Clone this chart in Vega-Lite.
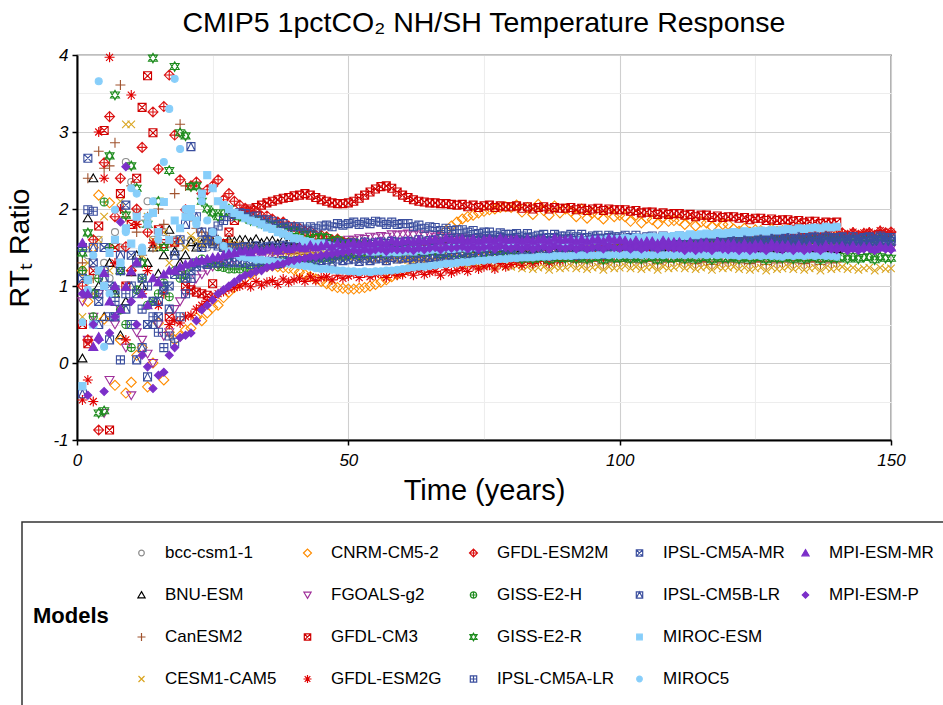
{
"$schema":"https://vega.github.io/schema/vega-lite/v6.json",
"width":814,"height":385,
"autosize":{"type":"none"},
"padding":{"left":77,"top":55,"right":52,"bottom":265},
"background":"white",
"title":{"text":"CMIP5 1pctCO₂ NH/SH Temperature Response","font":"Liberation Sans","fontSize":28.5,"fontWeight":"normal","color":"black","anchor":"middle","offset":9},
"datasets":{"models":[
{"m":"a","model":"bcc-csm1-1"},{"m":"b","model":"BNU-ESM"},{"m":"c","model":"CanESM2"},{"m":"d","model":"CESM1-CAM5"},{"m":"e","model":"CNRM-CM5-2"},{"m":"f","model":"FGOALS-g2"},{"m":"g","model":"GFDL-CM3"},{"m":"h","model":"GFDL-ESM2G"},{"m":"i","model":"GFDL-ESM2M"},{"m":"j","model":"GISS-E2-H"},{"m":"k","model":"GISS-E2-R"},{"m":"l","model":"IPSL-CM5A-LR"},{"m":"n","model":"IPSL-CM5B-LR"},{"m":"mm","model":"IPSL-CM5A-MR"},{"m":"o","model":"MIROC-ESM"},{"m":"p","model":"MIROC5"},{"m":"q","model":"MPI-ESM-MR"},{"m":"r","model":"MPI-ESM-P"}]},
"data":{"values":[
{"m":"a","t":1,"y":1.18},{"m":"a","t":2,"y":1.4},{"m":"a","t":3,"y":0.9},{"m":"a","t":4,"y":1.6},{"m":"a","t":5,"y":1.3},{"m":"a","t":6,"y":1.1},{"m":"a","t":7,"y":1.7},{"m":"a","t":8,"y":1.5},{"m":"a","t":9,"y":2.61},{"m":"a","t":10,"y":2.35},
{"m":"a","t":11,"y":1.95},{"m":"a","t":12,"y":1.81},{"m":"a","t":13,"y":2.1},{"m":"a","t":14,"y":1.6},{"m":"a","t":15,"y":1.5},{"m":"a","t":16,"y":1.7},{"m":"a","t":17,"y":1.55},{"m":"a","t":18,"y":1.6},{"m":"a","t":19,"y":1.5},{"m":"a","t":20,"y":1.55},
{"m":"a","t":21,"y":1.6},{"m":"a","t":22,"y":1.52},{"m":"a","t":23,"y":1.58},{"m":"a","t":24,"y":1.5},{"m":"a","t":25,"y":1.55},{"m":"a","t":26,"y":1.53},{"m":"a","t":27,"y":1.5},{"m":"a","t":28,"y":1.56},{"m":"a","t":29,"y":1.52},{"m":"a","t":30,"y":1.5},
{"m":"a","t":31,"y":1.52},{"m":"a","t":32,"y":1.49},{"m":"a","t":33,"y":1.53},{"m":"a","t":34,"y":1.48},{"m":"a","t":35,"y":1.5},{"m":"a","t":36,"y":1.51},{"m":"a","t":37,"y":1.47},{"m":"a","t":38,"y":1.52},{"m":"a","t":39,"y":1.49},{"m":"a","t":40,"y":1.5},
{"m":"a","t":41,"y":1.52},{"m":"a","t":42,"y":1.49},{"m":"a","t":43,"y":1.53},{"m":"a","t":44,"y":1.48},{"m":"a","t":45,"y":1.5},{"m":"a","t":46,"y":1.51},{"m":"a","t":47,"y":1.47},{"m":"a","t":48,"y":1.52},{"m":"a","t":49,"y":1.49},{"m":"a","t":50,"y":1.5},
{"m":"a","t":51,"y":1.52},{"m":"a","t":52,"y":1.49},{"m":"a","t":53,"y":1.53},{"m":"a","t":54,"y":1.48},{"m":"a","t":55,"y":1.5},{"m":"a","t":56,"y":1.51},{"m":"a","t":57,"y":1.47},{"m":"a","t":58,"y":1.52},{"m":"a","t":59,"y":1.49},{"m":"a","t":60,"y":1.5},
{"m":"a","t":61,"y":1.52},{"m":"a","t":62,"y":1.49},{"m":"a","t":63,"y":1.53},{"m":"a","t":64,"y":1.48},{"m":"a","t":65,"y":1.5},{"m":"a","t":66,"y":1.51},{"m":"a","t":67,"y":1.47},{"m":"a","t":68,"y":1.52},{"m":"a","t":69,"y":1.49},{"m":"a","t":70,"y":1.5},
{"m":"a","t":71,"y":1.52},{"m":"a","t":72,"y":1.49},{"m":"a","t":73,"y":1.53},{"m":"a","t":74,"y":1.48},{"m":"a","t":75,"y":1.5},{"m":"a","t":76,"y":1.51},{"m":"a","t":77,"y":1.47},{"m":"a","t":78,"y":1.52},{"m":"a","t":79,"y":1.49},{"m":"a","t":80,"y":1.5},
{"m":"a","t":81,"y":1.52},{"m":"a","t":82,"y":1.49},{"m":"a","t":83,"y":1.53},{"m":"a","t":84,"y":1.48},{"m":"a","t":85,"y":1.5},{"m":"a","t":86,"y":1.51},{"m":"a","t":87,"y":1.47},{"m":"a","t":88,"y":1.52},{"m":"a","t":89,"y":1.49},{"m":"a","t":90,"y":1.5},
{"m":"a","t":91,"y":1.5},{"m":"a","t":92,"y":1.47},{"m":"a","t":93,"y":1.51},{"m":"a","t":94,"y":1.46},{"m":"a","t":95,"y":1.48},{"m":"a","t":96,"y":1.49},{"m":"a","t":97,"y":1.45},{"m":"a","t":98,"y":1.5},{"m":"a","t":99,"y":1.47},{"m":"a","t":100,"y":1.48},
{"m":"a","t":101,"y":1.5},{"m":"a","t":102,"y":1.47},{"m":"a","t":103,"y":1.51},{"m":"a","t":104,"y":1.46},{"m":"a","t":105,"y":1.48},{"m":"a","t":106,"y":1.49},{"m":"a","t":107,"y":1.45},{"m":"a","t":108,"y":1.5},{"m":"a","t":109,"y":1.47},{"m":"a","t":110,"y":1.48},
{"m":"a","t":111,"y":1.5},{"m":"a","t":112,"y":1.47},{"m":"a","t":113,"y":1.51},{"m":"a","t":114,"y":1.46},{"m":"a","t":115,"y":1.48},{"m":"a","t":116,"y":1.49},{"m":"a","t":117,"y":1.45},{"m":"a","t":118,"y":1.5},{"m":"a","t":119,"y":1.47},{"m":"a","t":120,"y":1.48},
{"m":"a","t":121,"y":1.5},{"m":"a","t":122,"y":1.47},{"m":"a","t":123,"y":1.51},{"m":"a","t":124,"y":1.46},{"m":"a","t":125,"y":1.48},{"m":"a","t":126,"y":1.49},{"m":"a","t":127,"y":1.45},{"m":"a","t":128,"y":1.5},{"m":"a","t":129,"y":1.47},{"m":"a","t":130,"y":1.48},
{"m":"a","t":131,"y":1.5},{"m":"a","t":132,"y":1.47},{"m":"a","t":133,"y":1.51},{"m":"a","t":134,"y":1.46},{"m":"a","t":135,"y":1.48},{"m":"a","t":136,"y":1.49},{"m":"a","t":137,"y":1.45},{"m":"a","t":138,"y":1.5},{"m":"a","t":139,"y":1.47},{"m":"a","t":140,"y":1.48},
{"m":"b","t":1,"y":0.06},{"m":"b","t":2,"y":1.88},{"m":"b","t":3,"y":2.4},{"m":"b","t":4,"y":1.0},{"m":"b","t":5,"y":0.6},{"m":"b","t":6,"y":1.3},{"m":"b","t":7,"y":0.9},{"m":"b","t":8,"y":0.36},{"m":"b","t":9,"y":0.8},{"m":"b","t":10,"y":1.18},
{"m":"b","t":11,"y":1.4},{"m":"b","t":12,"y":1.0},{"m":"b","t":13,"y":1.3},{"m":"b","t":14,"y":1.5},{"m":"b","t":15,"y":1.16},{"m":"b","t":16,"y":1.4},{"m":"b","t":17,"y":1.73},{"m":"b","t":18,"y":1.45},{"m":"b","t":19,"y":1.3},{"m":"b","t":20,"y":1.4},
{"m":"b","t":21,"y":1.57},{"m":"b","t":22,"y":1.5},{"m":"b","t":23,"y":1.55},{"m":"b","t":24,"y":1.6},{"m":"b","t":25,"y":1.58},{"m":"b","t":26,"y":1.6},{"m":"b","t":27,"y":1.55},{"m":"b","t":28,"y":1.6},{"m":"b","t":29,"y":1.58},{"m":"b","t":30,"y":1.6},
{"m":"b","t":31,"y":1.6},{"m":"b","t":32,"y":1.57},{"m":"b","t":33,"y":1.61},{"m":"b","t":34,"y":1.56},{"m":"b","t":35,"y":1.58},{"m":"b","t":36,"y":1.59},{"m":"b","t":37,"y":1.55},{"m":"b","t":38,"y":1.6},{"m":"b","t":39,"y":1.57},{"m":"b","t":40,"y":1.58},
{"m":"b","t":41,"y":1.58},{"m":"b","t":42,"y":1.55},{"m":"b","t":43,"y":1.59},{"m":"b","t":44,"y":1.54},{"m":"b","t":45,"y":1.56},{"m":"b","t":46,"y":1.57},{"m":"b","t":47,"y":1.53},{"m":"b","t":48,"y":1.58},{"m":"b","t":49,"y":1.55},{"m":"b","t":50,"y":1.56},
{"m":"b","t":51,"y":1.56},{"m":"b","t":52,"y":1.53},{"m":"b","t":53,"y":1.57},{"m":"b","t":54,"y":1.52},{"m":"b","t":55,"y":1.54},{"m":"b","t":56,"y":1.55},{"m":"b","t":57,"y":1.51},{"m":"b","t":58,"y":1.56},{"m":"b","t":59,"y":1.53},{"m":"b","t":60,"y":1.54},
{"m":"b","t":61,"y":1.52},{"m":"b","t":62,"y":1.49},{"m":"b","t":63,"y":1.53},{"m":"b","t":64,"y":1.48},{"m":"b","t":65,"y":1.5},{"m":"b","t":66,"y":1.51},{"m":"b","t":67,"y":1.47},{"m":"b","t":68,"y":1.52},{"m":"b","t":69,"y":1.49},{"m":"b","t":70,"y":1.5},
{"m":"b","t":71,"y":1.52},{"m":"b","t":72,"y":1.49},{"m":"b","t":73,"y":1.53},{"m":"b","t":74,"y":1.48},{"m":"b","t":75,"y":1.5},{"m":"b","t":76,"y":1.51},{"m":"b","t":77,"y":1.47},{"m":"b","t":78,"y":1.52},{"m":"b","t":79,"y":1.49},{"m":"b","t":80,"y":1.5},
{"m":"b","t":81,"y":1.52},{"m":"b","t":82,"y":1.49},{"m":"b","t":83,"y":1.53},{"m":"b","t":84,"y":1.48},{"m":"b","t":85,"y":1.5},{"m":"b","t":86,"y":1.51},{"m":"b","t":87,"y":1.47},{"m":"b","t":88,"y":1.52},{"m":"b","t":89,"y":1.49},{"m":"b","t":90,"y":1.5},
{"m":"b","t":91,"y":1.52},{"m":"b","t":92,"y":1.49},{"m":"b","t":93,"y":1.53},{"m":"b","t":94,"y":1.48},{"m":"b","t":95,"y":1.5},{"m":"b","t":96,"y":1.51},{"m":"b","t":97,"y":1.47},{"m":"b","t":98,"y":1.52},{"m":"b","t":99,"y":1.49},{"m":"b","t":100,"y":1.5},
{"m":"b","t":101,"y":1.5},{"m":"b","t":102,"y":1.47},{"m":"b","t":103,"y":1.51},{"m":"b","t":104,"y":1.46},{"m":"b","t":105,"y":1.48},{"m":"b","t":106,"y":1.49},{"m":"b","t":107,"y":1.45},{"m":"b","t":108,"y":1.5},{"m":"b","t":109,"y":1.47},{"m":"b","t":110,"y":1.48},
{"m":"b","t":111,"y":1.5},{"m":"b","t":112,"y":1.47},{"m":"b","t":113,"y":1.51},{"m":"b","t":114,"y":1.46},{"m":"b","t":115,"y":1.48},{"m":"b","t":116,"y":1.49},{"m":"b","t":117,"y":1.45},{"m":"b","t":118,"y":1.5},{"m":"b","t":119,"y":1.47},{"m":"b","t":120,"y":1.48},
{"m":"b","t":121,"y":1.5},{"m":"b","t":122,"y":1.47},{"m":"b","t":123,"y":1.51},{"m":"b","t":124,"y":1.46},{"m":"b","t":125,"y":1.48},{"m":"b","t":126,"y":1.49},{"m":"b","t":127,"y":1.45},{"m":"b","t":128,"y":1.5},{"m":"b","t":129,"y":1.47},{"m":"b","t":130,"y":1.48},
{"m":"b","t":131,"y":1.5},{"m":"b","t":132,"y":1.47},{"m":"b","t":133,"y":1.51},{"m":"b","t":134,"y":1.46},{"m":"b","t":135,"y":1.48},{"m":"b","t":136,"y":1.49},{"m":"b","t":137,"y":1.45},{"m":"b","t":138,"y":1.5},{"m":"b","t":139,"y":1.47},{"m":"b","t":140,"y":1.48},
{"m":"c","t":1,"y":1.3},{"m":"c","t":2,"y":2.4},{"m":"c","t":3,"y":1.1},{"m":"c","t":4,"y":2.75},{"m":"c","t":5,"y":2.53},{"m":"c","t":6,"y":2.56},{"m":"c","t":7,"y":2.86},{"m":"c","t":8,"y":3.61},{"m":"c","t":9,"y":1.9},{"m":"c","t":10,"y":2.3},
{"m":"c","t":11,"y":1.7},{"m":"c","t":12,"y":1.4},{"m":"c","t":13,"y":1.9},{"m":"c","t":14,"y":1.5},{"m":"c","t":15,"y":2.0},{"m":"c","t":16,"y":1.8},{"m":"c","t":17,"y":1.6},{"m":"c","t":18,"y":2.2},{"m":"c","t":19,"y":3.1},{"m":"c","t":20,"y":2.3},
{"m":"c","t":21,"y":1.9},{"m":"c","t":22,"y":1.75},{"m":"c","t":23,"y":1.7},{"m":"c","t":24,"y":1.64},{"m":"c","t":25,"y":1.6},{"m":"c","t":26,"y":1.58},{"m":"c","t":27,"y":1.55},{"m":"c","t":28,"y":1.56},{"m":"c","t":29,"y":1.52},{"m":"c","t":30,"y":1.53},
{"m":"c","t":31,"y":1.5},{"m":"c","t":32,"y":1.49},{"m":"c","t":33,"y":1.5},{"m":"c","t":34,"y":1.46},{"m":"c","t":35,"y":1.47},{"m":"c","t":36,"y":1.45},{"m":"c","t":37,"y":1.43},{"m":"c","t":38,"y":1.45},{"m":"c","t":39,"y":1.42},{"m":"c","t":40,"y":1.42},
{"m":"c","t":41,"y":1.43},{"m":"c","t":42,"y":1.41},{"m":"c","t":43,"y":1.43},{"m":"c","t":44,"y":1.39},{"m":"c","t":45,"y":1.4},{"m":"c","t":46,"y":1.41},{"m":"c","t":47,"y":1.37},{"m":"c","t":48,"y":1.4},{"m":"c","t":49,"y":1.38},{"m":"c","t":50,"y":1.39},
{"m":"c","t":51,"y":1.39},{"m":"c","t":52,"y":1.37},{"m":"c","t":53,"y":1.4},{"m":"c","t":54,"y":1.36},{"m":"c","t":55,"y":1.37},{"m":"c","t":56,"y":1.38},{"m":"c","t":57,"y":1.34},{"m":"c","t":58,"y":1.38},{"m":"c","t":59,"y":1.36},{"m":"c","t":60,"y":1.36},
{"m":"c","t":61,"y":1.36},{"m":"c","t":62,"y":1.34},{"m":"c","t":63,"y":1.37},{"m":"c","t":64,"y":1.33},{"m":"c","t":65,"y":1.35},{"m":"c","t":66,"y":1.36},{"m":"c","t":67,"y":1.32},{"m":"c","t":68,"y":1.36},{"m":"c","t":69,"y":1.34},{"m":"c","t":70,"y":1.34},
{"m":"c","t":71,"y":1.35},{"m":"c","t":72,"y":1.33},{"m":"c","t":73,"y":1.36},{"m":"c","t":74,"y":1.32},{"m":"c","t":75,"y":1.34},{"m":"c","t":76,"y":1.35},{"m":"c","t":77,"y":1.31},{"m":"c","t":78,"y":1.35},{"m":"c","t":79,"y":1.33},{"m":"c","t":80,"y":1.33},
{"m":"c","t":81,"y":1.34},{"m":"c","t":82,"y":1.31},{"m":"c","t":83,"y":1.34},{"m":"c","t":84,"y":1.3},{"m":"c","t":85,"y":1.32},{"m":"c","t":86,"y":1.33},{"m":"c","t":87,"y":1.29},{"m":"c","t":88,"y":1.33},{"m":"c","t":89,"y":1.31},{"m":"c","t":90,"y":1.32},
{"m":"c","t":91,"y":1.34},{"m":"c","t":92,"y":1.31},{"m":"c","t":93,"y":1.34},{"m":"c","t":94,"y":1.3},{"m":"c","t":95,"y":1.32},{"m":"c","t":96,"y":1.33},{"m":"c","t":97,"y":1.29},{"m":"c","t":98,"y":1.33},{"m":"c","t":99,"y":1.31},{"m":"c","t":100,"y":1.32},
{"m":"c","t":101,"y":1.34},{"m":"c","t":102,"y":1.31},{"m":"c","t":103,"y":1.34},{"m":"c","t":104,"y":1.3},{"m":"c","t":105,"y":1.32},{"m":"c","t":106,"y":1.33},{"m":"c","t":107,"y":1.29},{"m":"c","t":108,"y":1.33},{"m":"c","t":109,"y":1.31},{"m":"c","t":110,"y":1.32},
{"m":"c","t":111,"y":1.33},{"m":"c","t":112,"y":1.3},{"m":"c","t":113,"y":1.33},{"m":"c","t":114,"y":1.29},{"m":"c","t":115,"y":1.31},{"m":"c","t":116,"y":1.32},{"m":"c","t":117,"y":1.28},{"m":"c","t":118,"y":1.32},{"m":"c","t":119,"y":1.3},{"m":"c","t":120,"y":1.31},
{"m":"c","t":121,"y":1.33},{"m":"c","t":122,"y":1.3},{"m":"c","t":123,"y":1.33},{"m":"c","t":124,"y":1.29},{"m":"c","t":125,"y":1.31},{"m":"c","t":126,"y":1.32},{"m":"c","t":127,"y":1.28},{"m":"c","t":128,"y":1.32},{"m":"c","t":129,"y":1.3},{"m":"c","t":130,"y":1.31},
{"m":"c","t":131,"y":1.33},{"m":"c","t":132,"y":1.3},{"m":"c","t":133,"y":1.33},{"m":"c","t":134,"y":1.29},{"m":"c","t":135,"y":1.31},{"m":"c","t":136,"y":1.32},{"m":"c","t":137,"y":1.28},{"m":"c","t":138,"y":1.32},{"m":"c","t":139,"y":1.3},{"m":"c","t":140,"y":1.31},
{"m":"d","t":1,"y":0.6},{"m":"d","t":2,"y":1.3},{"m":"d","t":3,"y":0.9},{"m":"d","t":4,"y":1.6},{"m":"d","t":5,"y":1.9},{"m":"d","t":6,"y":1.2},{"m":"d","t":7,"y":1.5},{"m":"d","t":8,"y":2.1},{"m":"d","t":9,"y":3.1},{"m":"d","t":10,"y":3.1},
{"m":"d","t":11,"y":1.8},{"m":"d","t":12,"y":1.4},{"m":"d","t":13,"y":1.9},{"m":"d","t":14,"y":1.6},{"m":"d","t":15,"y":1.5},{"m":"d","t":16,"y":1.7},{"m":"d","t":17,"y":1.3},{"m":"d","t":18,"y":1.55},{"m":"d","t":19,"y":1.6},{"m":"d","t":20,"y":1.5},
{"m":"d","t":21,"y":1.65},{"m":"d","t":22,"y":1.6},{"m":"d","t":23,"y":1.55},{"m":"d","t":24,"y":1.6},{"m":"d","t":25,"y":1.58},{"m":"d","t":26,"y":1.57},{"m":"d","t":27,"y":1.55},{"m":"d","t":28,"y":1.56},{"m":"d","t":29,"y":1.52},{"m":"d","t":30,"y":1.53},
{"m":"d","t":31,"y":1.51},{"m":"d","t":32,"y":1.49},{"m":"d","t":33,"y":1.5},{"m":"d","t":34,"y":1.47},{"m":"d","t":35,"y":1.48},{"m":"d","t":36,"y":1.46},{"m":"d","t":37,"y":1.44},{"m":"d","t":38,"y":1.45},{"m":"d","t":39,"y":1.43},{"m":"d","t":40,"y":1.43},
{"m":"d","t":41,"y":1.42},{"m":"d","t":42,"y":1.4},{"m":"d","t":43,"y":1.42},{"m":"d","t":44,"y":1.39},{"m":"d","t":45,"y":1.4},{"m":"d","t":46,"y":1.4},{"m":"d","t":47,"y":1.37},{"m":"d","t":48,"y":1.4},{"m":"d","t":49,"y":1.38},{"m":"d","t":50,"y":1.38},
{"m":"d","t":51,"y":1.39},{"m":"d","t":52,"y":1.36},{"m":"d","t":53,"y":1.38},{"m":"d","t":54,"y":1.35},{"m":"d","t":55,"y":1.36},{"m":"d","t":56,"y":1.36},{"m":"d","t":57,"y":1.33},{"m":"d","t":58,"y":1.36},{"m":"d","t":59,"y":1.34},{"m":"d","t":60,"y":1.34},
{"m":"d","t":61,"y":1.34},{"m":"d","t":62,"y":1.31},{"m":"d","t":63,"y":1.34},{"m":"d","t":64,"y":1.3},{"m":"d","t":65,"y":1.31},{"m":"d","t":66,"y":1.32},{"m":"d","t":67,"y":1.29},{"m":"d","t":68,"y":1.31},{"m":"d","t":69,"y":1.29},{"m":"d","t":70,"y":1.29},
{"m":"d","t":71,"y":1.29},{"m":"d","t":72,"y":1.27},{"m":"d","t":73,"y":1.29},{"m":"d","t":74,"y":1.25},{"m":"d","t":75,"y":1.27},{"m":"d","t":76,"y":1.27},{"m":"d","t":77,"y":1.24},{"m":"d","t":78,"y":1.27},{"m":"d","t":79,"y":1.25},{"m":"d","t":80,"y":1.25},
{"m":"d","t":81,"y":1.26},{"m":"d","t":82,"y":1.23},{"m":"d","t":83,"y":1.25},{"m":"d","t":84,"y":1.22},{"m":"d","t":85,"y":1.24},{"m":"d","t":86,"y":1.25},{"m":"d","t":87,"y":1.21},{"m":"d","t":88,"y":1.25},{"m":"d","t":89,"y":1.23},{"m":"d","t":90,"y":1.24},
{"m":"d","t":91,"y":1.26},{"m":"d","t":92,"y":1.23},{"m":"d","t":93,"y":1.25},{"m":"d","t":94,"y":1.22},{"m":"d","t":95,"y":1.24},{"m":"d","t":96,"y":1.25},{"m":"d","t":97,"y":1.21},{"m":"d","t":98,"y":1.25},{"m":"d","t":99,"y":1.23},{"m":"d","t":100,"y":1.24},
{"m":"d","t":101,"y":1.26},{"m":"d","t":102,"y":1.23},{"m":"d","t":103,"y":1.25},{"m":"d","t":104,"y":1.22},{"m":"d","t":105,"y":1.24},{"m":"d","t":106,"y":1.25},{"m":"d","t":107,"y":1.21},{"m":"d","t":108,"y":1.25},{"m":"d","t":109,"y":1.23},{"m":"d","t":110,"y":1.24},
{"m":"d","t":111,"y":1.26},{"m":"d","t":112,"y":1.23},{"m":"d","t":113,"y":1.25},{"m":"d","t":114,"y":1.22},{"m":"d","t":115,"y":1.24},{"m":"d","t":116,"y":1.25},{"m":"d","t":117,"y":1.21},{"m":"d","t":118,"y":1.25},{"m":"d","t":119,"y":1.23},{"m":"d","t":120,"y":1.24},
{"m":"d","t":121,"y":1.25},{"m":"d","t":122,"y":1.22},{"m":"d","t":123,"y":1.24},{"m":"d","t":124,"y":1.21},{"m":"d","t":125,"y":1.23},{"m":"d","t":126,"y":1.24},{"m":"d","t":127,"y":1.2},{"m":"d","t":128,"y":1.24},{"m":"d","t":129,"y":1.22},{"m":"d","t":130,"y":1.23},
{"m":"d","t":131,"y":1.25},{"m":"d","t":132,"y":1.22},{"m":"d","t":133,"y":1.24},{"m":"d","t":134,"y":1.21},{"m":"d","t":135,"y":1.23},{"m":"d","t":136,"y":1.24},{"m":"d","t":137,"y":1.2},{"m":"d","t":138,"y":1.24},{"m":"d","t":139,"y":1.22},{"m":"d","t":140,"y":1.23},
{"m":"d","t":141,"y":1.25},{"m":"d","t":142,"y":1.22},{"m":"d","t":143,"y":1.24},{"m":"d","t":144,"y":1.21},{"m":"d","t":145,"y":1.23},{"m":"d","t":146,"y":1.24},{"m":"d","t":147,"y":1.2},{"m":"d","t":148,"y":1.24},{"m":"d","t":149,"y":1.22},{"m":"d","t":150,"y":1.23},
{"m":"e","t":1,"y":1.2},{"m":"e","t":2,"y":0.8},{"m":"e","t":3,"y":1.5},{"m":"e","t":4,"y":2.18},{"m":"e","t":5,"y":0.57},{"m":"e","t":6,"y":2.08},{"m":"e","t":7,"y":-0.29},{"m":"e","t":8,"y":0.3},{"m":"e","t":9,"y":-0.39},{"m":"e","t":10,"y":-0.25},
{"m":"e","t":11,"y":0.1},{"m":"e","t":12,"y":0.2},{"m":"e","t":13,"y":-0.31},{"m":"e","t":14,"y":0.0},{"m":"e","t":15,"y":0.52},{"m":"e","t":16,"y":-0.22},{"m":"e","t":17,"y":0.4},{"m":"e","t":18,"y":0.3},{"m":"e","t":19,"y":0.35},{"m":"e","t":20,"y":0.43},
{"m":"e","t":21,"y":0.45},{"m":"e","t":22,"y":0.59},{"m":"e","t":23,"y":0.55},{"m":"e","t":24,"y":0.65},{"m":"e","t":25,"y":0.72},{"m":"e","t":26,"y":0.75},{"m":"e","t":27,"y":0.85},{"m":"e","t":28,"y":0.92},{"m":"e","t":29,"y":0.98},{"m":"e","t":30,"y":1.04},
{"m":"e","t":31,"y":1.1},{"m":"e","t":32,"y":1.15},{"m":"e","t":33,"y":1.2},{"m":"e","t":34,"y":1.22},{"m":"e","t":35,"y":1.25},{"m":"e","t":36,"y":1.26},{"m":"e","t":37,"y":1.25},{"m":"e","t":38,"y":1.24},{"m":"e","t":39,"y":1.23},{"m":"e","t":40,"y":1.21},
{"m":"e","t":41,"y":1.18},{"m":"e","t":42,"y":1.15},{"m":"e","t":43,"y":1.12},{"m":"e","t":44,"y":1.09},{"m":"e","t":45,"y":1.06},{"m":"e","t":46,"y":1.03},{"m":"e","t":47,"y":1.0},{"m":"e","t":48,"y":0.98},{"m":"e","t":49,"y":0.97},{"m":"e","t":50,"y":0.96},
{"m":"e","t":51,"y":0.96},{"m":"e","t":52,"y":0.97},{"m":"e","t":53,"y":0.98},{"m":"e","t":54,"y":1.0},{"m":"e","t":55,"y":1.02},{"m":"e","t":56,"y":1.05},{"m":"e","t":57,"y":1.08},{"m":"e","t":58,"y":1.12},{"m":"e","t":59,"y":1.15},{"m":"e","t":60,"y":1.18},
{"m":"e","t":61,"y":1.22},{"m":"e","t":62,"y":1.28},{"m":"e","t":63,"y":1.35},{"m":"e","t":64,"y":1.42},{"m":"e","t":65,"y":1.5},{"m":"e","t":66,"y":1.58},{"m":"e","t":67,"y":1.65},{"m":"e","t":68,"y":1.72},{"m":"e","t":69,"y":1.78},{"m":"e","t":70,"y":1.83},
{"m":"e","t":71,"y":1.87},{"m":"e","t":72,"y":1.9},{"m":"e","t":73,"y":1.92},{"m":"e","t":74,"y":1.95},{"m":"e","t":75,"y":1.97},{"m":"e","t":76,"y":1.99},{"m":"e","t":77,"y":2.0},{"m":"e","t":78,"y":2.02},{"m":"e","t":79,"y":2.03},{"m":"e","t":80,"y":2.02},
{"m":"e","t":81,"y":2.05},{"m":"e","t":82,"y":1.96},{"m":"e","t":83,"y":2.02},{"m":"e","t":84,"y":1.93},{"m":"e","t":85,"y":2.06},{"m":"e","t":86,"y":1.98},{"m":"e","t":87,"y":1.92},{"m":"e","t":88,"y":2.04},{"m":"e","t":89,"y":1.95},{"m":"e","t":90,"y":2.0},
{"m":"e","t":91,"y":1.97},{"m":"e","t":92,"y":1.9},{"m":"e","t":93,"y":2.0},{"m":"e","t":94,"y":1.88},{"m":"e","t":95,"y":1.95},{"m":"e","t":96,"y":1.93},{"m":"e","t":97,"y":1.87},{"m":"e","t":98,"y":1.96},{"m":"e","t":99,"y":1.9},{"m":"e","t":100,"y":1.92},
{"m":"e","t":101,"y":1.9},{"m":"e","t":102,"y":1.84},{"m":"e","t":103,"y":1.92},{"m":"e","t":104,"y":1.82},{"m":"e","t":105,"y":1.88},{"m":"e","t":106,"y":1.86},{"m":"e","t":107,"y":1.81},{"m":"e","t":108,"y":1.89},{"m":"e","t":109,"y":1.84},{"m":"e","t":110,"y":1.85},
{"m":"e","t":111,"y":1.85},{"m":"e","t":112,"y":1.8},{"m":"e","t":113,"y":1.87},{"m":"e","t":114,"y":1.78},{"m":"e","t":115,"y":1.83},{"m":"e","t":116,"y":1.82},{"m":"e","t":117,"y":1.77},{"m":"e","t":118,"y":1.84},{"m":"e","t":119,"y":1.8},{"m":"e","t":120,"y":1.8},
{"m":"e","t":121,"y":1.74},{"m":"e","t":122,"y":1.71},{"m":"e","t":123,"y":1.75},{"m":"e","t":124,"y":1.7},{"m":"e","t":125,"y":1.73},{"m":"e","t":126,"y":1.72},{"m":"e","t":127,"y":1.69},{"m":"e","t":128,"y":1.74},{"m":"e","t":129,"y":1.71},{"m":"e","t":130,"y":1.72},
{"m":"e","t":131,"y":1.74},{"m":"e","t":132,"y":1.71},{"m":"e","t":133,"y":1.75},{"m":"e","t":134,"y":1.7},{"m":"e","t":135,"y":1.73},{"m":"e","t":136,"y":1.72},{"m":"e","t":137,"y":1.69},{"m":"e","t":138,"y":1.74},{"m":"e","t":139,"y":1.71},{"m":"e","t":140,"y":1.72},
{"m":"f","t":1,"y":0.8},{"m":"f","t":2,"y":0.3},{"m":"f","t":3,"y":0.6},{"m":"f","t":4,"y":0.9},{"m":"f","t":5,"y":-0.65},{"m":"f","t":6,"y":-0.22},{"m":"f","t":7,"y":0.5},{"m":"f","t":8,"y":0.7},{"m":"f","t":9,"y":0.2},{"m":"f","t":10,"y":-0.42},
{"m":"f","t":11,"y":0.4},{"m":"f","t":12,"y":0.3},{"m":"f","t":13,"y":0.12},{"m":"f","t":14,"y":0.0},{"m":"f","t":15,"y":0.5},{"m":"f","t":16,"y":0.35},{"m":"f","t":17,"y":0.4},{"m":"f","t":18,"y":0.7},{"m":"f","t":19,"y":0.8},{"m":"f","t":20,"y":0.9},
{"m":"f","t":21,"y":1.0},{"m":"f","t":22,"y":1.1},{"m":"f","t":23,"y":1.15},{"m":"f","t":24,"y":1.2},{"m":"f","t":25,"y":1.25},{"m":"f","t":26,"y":1.27},{"m":"f","t":27,"y":1.3},{"m":"f","t":28,"y":1.32},{"m":"f","t":29,"y":1.33},{"m":"f","t":30,"y":1.35},
{"m":"f","t":31,"y":1.37},{"m":"f","t":32,"y":1.39},{"m":"f","t":33,"y":1.38},{"m":"f","t":34,"y":1.42},{"m":"f","t":35,"y":1.41},{"m":"f","t":36,"y":1.43},{"m":"f","t":37,"y":1.44},{"m":"f","t":38,"y":1.46},{"m":"f","t":39,"y":1.45},{"m":"f","t":40,"y":1.48},
{"m":"f","t":41,"y":1.49},{"m":"f","t":42,"y":1.5},{"m":"f","t":43,"y":1.52},{"m":"f","t":44,"y":1.51},{"m":"f","t":45,"y":1.54},{"m":"f","t":46,"y":1.55},{"m":"f","t":47,"y":1.55},{"m":"f","t":48,"y":1.58},{"m":"f","t":49,"y":1.57},{"m":"f","t":50,"y":1.6},
{"m":"f","t":51,"y":1.6},{"m":"f","t":52,"y":1.62},{"m":"f","t":53,"y":1.61},{"m":"f","t":54,"y":1.64},{"m":"f","t":55,"y":1.63},{"m":"f","t":56,"y":1.65},{"m":"f","t":57,"y":1.64},{"m":"f","t":58,"y":1.67},{"m":"f","t":59,"y":1.66},{"m":"f","t":60,"y":1.67},
{"m":"f","t":61,"y":1.68},{"m":"f","t":62,"y":1.66},{"m":"f","t":63,"y":1.67},{"m":"f","t":64,"y":1.65},{"m":"f","t":65,"y":1.66},{"m":"f","t":66,"y":1.64},{"m":"f","t":67,"y":1.65},{"m":"f","t":68,"y":1.63},{"m":"f","t":69,"y":1.64},{"m":"f","t":70,"y":1.62},
{"m":"f","t":71,"y":1.63},{"m":"f","t":72,"y":1.61},{"m":"f","t":73,"y":1.62},{"m":"f","t":74,"y":1.6},{"m":"f","t":75,"y":1.62},{"m":"f","t":76,"y":1.61},{"m":"f","t":77,"y":1.59},{"m":"f","t":78,"y":1.61},{"m":"f","t":79,"y":1.6},{"m":"f","t":80,"y":1.6},
{"m":"f","t":81,"y":1.61},{"m":"f","t":82,"y":1.59},{"m":"f","t":83,"y":1.6},{"m":"f","t":84,"y":1.58},{"m":"f","t":85,"y":1.6},{"m":"f","t":86,"y":1.59},{"m":"f","t":87,"y":1.57},{"m":"f","t":88,"y":1.59},{"m":"f","t":89,"y":1.58},{"m":"f","t":90,"y":1.58},
{"m":"f","t":91,"y":1.59},{"m":"f","t":92,"y":1.57},{"m":"f","t":93,"y":1.58},{"m":"f","t":94,"y":1.56},{"m":"f","t":95,"y":1.58},{"m":"f","t":96,"y":1.57},{"m":"f","t":97,"y":1.55},{"m":"f","t":98,"y":1.57},{"m":"f","t":99,"y":1.56},{"m":"f","t":100,"y":1.56},
{"m":"f","t":101,"y":1.57},{"m":"f","t":102,"y":1.55},{"m":"f","t":103,"y":1.56},{"m":"f","t":104,"y":1.54},{"m":"f","t":105,"y":1.56},{"m":"f","t":106,"y":1.55},{"m":"f","t":107,"y":1.53},{"m":"f","t":108,"y":1.55},{"m":"f","t":109,"y":1.54},{"m":"f","t":110,"y":1.54},
{"m":"f","t":111,"y":1.55},{"m":"f","t":112,"y":1.53},{"m":"f","t":113,"y":1.54},{"m":"f","t":114,"y":1.52},{"m":"f","t":115,"y":1.54},{"m":"f","t":116,"y":1.53},{"m":"f","t":117,"y":1.51},{"m":"f","t":118,"y":1.53},{"m":"f","t":119,"y":1.52},{"m":"f","t":120,"y":1.52},
{"m":"f","t":121,"y":1.53},{"m":"f","t":122,"y":1.51},{"m":"f","t":123,"y":1.52},{"m":"f","t":124,"y":1.5},{"m":"f","t":125,"y":1.52},{"m":"f","t":126,"y":1.51},{"m":"f","t":127,"y":1.49},{"m":"f","t":128,"y":1.51},{"m":"f","t":129,"y":1.5},{"m":"f","t":130,"y":1.5},
{"m":"f","t":131,"y":1.53},{"m":"f","t":132,"y":1.51},{"m":"f","t":133,"y":1.52},{"m":"f","t":134,"y":1.5},{"m":"f","t":135,"y":1.52},{"m":"f","t":136,"y":1.51},{"m":"f","t":137,"y":1.49},{"m":"f","t":138,"y":1.51},{"m":"f","t":139,"y":1.5},{"m":"f","t":140,"y":1.5},
{"m":"f","t":141,"y":1.52},{"m":"f","t":142,"y":1.5},{"m":"f","t":143,"y":1.51},{"m":"f","t":144,"y":1.49},{"m":"f","t":145,"y":1.51},{"m":"f","t":146,"y":1.5},{"m":"f","t":147,"y":1.48},{"m":"f","t":148,"y":1.5},{"m":"f","t":149,"y":1.49},{"m":"f","t":150,"y":1.49},
{"m":"g","t":1,"y":0.5},{"m":"g","t":2,"y":0.25},{"m":"g","t":3,"y":1.2},{"m":"g","t":4,"y":1.78},{"m":"g","t":5,"y":3.02},{"m":"g","t":6,"y":-0.87},{"m":"g","t":7,"y":1.5},{"m":"g","t":8,"y":2.2},{"m":"g","t":9,"y":1.0},{"m":"g","t":10,"y":1.8},
{"m":"g","t":11,"y":2.4},{"m":"g","t":12,"y":3.32},{"m":"g","t":13,"y":3.73},{"m":"g","t":14,"y":2.99},{"m":"g","t":15,"y":1.73},{"m":"g","t":16,"y":1.55},{"m":"g","t":17,"y":0.6},{"m":"g","t":18,"y":1.57},{"m":"g","t":19,"y":1.2},{"m":"g","t":20,"y":1.0},
{"m":"g","t":21,"y":0.95},{"m":"g","t":22,"y":0.92},{"m":"g","t":23,"y":0.9},{"m":"g","t":24,"y":0.88},{"m":"g","t":25,"y":1.03},{"m":"g","t":26,"y":1.3},{"m":"g","t":27,"y":1.55},{"m":"g","t":28,"y":1.7},{"m":"g","t":29,"y":1.85},{"m":"g","t":30,"y":1.95},
{"m":"g","t":31,"y":1.97},{"m":"g","t":32,"y":2.0},{"m":"g","t":33,"y":2.02},{"m":"g","t":34,"y":2.05},{"m":"g","t":35,"y":2.08},{"m":"g","t":36,"y":2.1},{"m":"g","t":37,"y":2.12},{"m":"g","t":38,"y":2.14},{"m":"g","t":39,"y":2.15},{"m":"g","t":40,"y":2.17},
{"m":"g","t":41,"y":2.18},{"m":"g","t":42,"y":2.2},{"m":"g","t":43,"y":2.18},{"m":"g","t":44,"y":2.15},{"m":"g","t":45,"y":2.12},{"m":"g","t":46,"y":2.1},{"m":"g","t":47,"y":2.08},{"m":"g","t":48,"y":2.07},{"m":"g","t":49,"y":2.07},{"m":"g","t":50,"y":2.08},
{"m":"g","t":51,"y":2.1},{"m":"g","t":52,"y":2.14},{"m":"g","t":53,"y":2.18},{"m":"g","t":54,"y":2.22},{"m":"g","t":55,"y":2.26},{"m":"g","t":56,"y":2.29},{"m":"g","t":57,"y":2.3},{"m":"g","t":58,"y":2.27},{"m":"g","t":59,"y":2.22},{"m":"g","t":60,"y":2.18},
{"m":"g","t":61,"y":2.15},{"m":"g","t":62,"y":2.12},{"m":"g","t":63,"y":2.1},{"m":"g","t":64,"y":2.09},{"m":"g","t":65,"y":2.08},{"m":"g","t":66,"y":2.08},{"m":"g","t":67,"y":2.07},{"m":"g","t":68,"y":2.07},{"m":"g","t":69,"y":2.06},{"m":"g","t":70,"y":2.05},
{"m":"g","t":71,"y":2.06},{"m":"g","t":72,"y":2.03},{"m":"g","t":73,"y":2.05},{"m":"g","t":74,"y":2.02},{"m":"g","t":75,"y":2.04},{"m":"g","t":76,"y":2.05},{"m":"g","t":77,"y":2.02},{"m":"g","t":78,"y":2.04},{"m":"g","t":79,"y":2.03},{"m":"g","t":80,"y":2.03},
{"m":"g","t":81,"y":2.04},{"m":"g","t":82,"y":2.01},{"m":"g","t":83,"y":2.03},{"m":"g","t":84,"y":2.0},{"m":"g","t":85,"y":2.02},{"m":"g","t":86,"y":2.03},{"m":"g","t":87,"y":2.0},{"m":"g","t":88,"y":2.02},{"m":"g","t":89,"y":2.01},{"m":"g","t":90,"y":2.01},
{"m":"g","t":91,"y":2.02},{"m":"g","t":92,"y":1.99},{"m":"g","t":93,"y":2.01},{"m":"g","t":94,"y":1.98},{"m":"g","t":95,"y":2.0},{"m":"g","t":96,"y":2.01},{"m":"g","t":97,"y":1.98},{"m":"g","t":98,"y":2.0},{"m":"g","t":99,"y":1.99},{"m":"g","t":100,"y":1.99},
{"m":"g","t":101,"y":1.99},{"m":"g","t":102,"y":1.97},{"m":"g","t":103,"y":1.98},{"m":"g","t":104,"y":1.95},{"m":"g","t":105,"y":1.96},{"m":"g","t":106,"y":1.96},{"m":"g","t":107,"y":1.93},{"m":"g","t":108,"y":1.95},{"m":"g","t":109,"y":1.93},{"m":"g","t":110,"y":1.94},
{"m":"g","t":111,"y":1.94},{"m":"g","t":112,"y":1.92},{"m":"g","t":113,"y":1.93},{"m":"g","t":114,"y":1.9},{"m":"g","t":115,"y":1.92},{"m":"g","t":116,"y":1.92},{"m":"g","t":117,"y":1.89},{"m":"g","t":118,"y":1.91},{"m":"g","t":119,"y":1.89},{"m":"g","t":120,"y":1.9},
{"m":"g","t":121,"y":1.9},{"m":"g","t":122,"y":1.88},{"m":"g","t":123,"y":1.89},{"m":"g","t":124,"y":1.86},{"m":"g","t":125,"y":1.88},{"m":"g","t":126,"y":1.88},{"m":"g","t":127,"y":1.85},{"m":"g","t":128,"y":1.87},{"m":"g","t":129,"y":1.85},{"m":"g","t":130,"y":1.86},
{"m":"g","t":131,"y":1.86},{"m":"g","t":132,"y":1.84},{"m":"g","t":133,"y":1.85},{"m":"g","t":134,"y":1.82},{"m":"g","t":135,"y":1.84},{"m":"g","t":136,"y":1.84},{"m":"g","t":137,"y":1.81},{"m":"g","t":138,"y":1.83},{"m":"g","t":139,"y":1.82},{"m":"g","t":140,"y":1.83},
{"m":"h","t":1,"y":-0.48},{"m":"h","t":2,"y":-0.22},{"m":"h","t":3,"y":-0.5},{"m":"h","t":4,"y":3.0},{"m":"h","t":5,"y":2.4},{"m":"h","t":6,"y":3.97},{"m":"h","t":7,"y":1.3},{"m":"h","t":8,"y":2.0},{"m":"h","t":9,"y":0.3},{"m":"h","t":10,"y":3.48},
{"m":"h","t":11,"y":1.8},{"m":"h","t":12,"y":0.9},{"m":"h","t":13,"y":1.2},{"m":"h","t":14,"y":1.56},{"m":"h","t":15,"y":0.75},{"m":"h","t":16,"y":0.9},{"m":"h","t":17,"y":0.5},{"m":"h","t":18,"y":0.55},{"m":"h","t":19,"y":0.52},{"m":"h","t":20,"y":0.6},
{"m":"h","t":21,"y":0.62},{"m":"h","t":22,"y":0.7},{"m":"h","t":23,"y":0.75},{"m":"h","t":24,"y":0.8},{"m":"h","t":25,"y":0.85},{"m":"h","t":26,"y":0.9},{"m":"h","t":27,"y":0.93},{"m":"h","t":28,"y":0.96},{"m":"h","t":29,"y":0.98},{"m":"h","t":30,"y":1.0},
{"m":"h","t":31,"y":1.03},{"m":"h","t":32,"y":0.99},{"m":"h","t":33,"y":1.06},{"m":"h","t":34,"y":1.01},{"m":"h","t":35,"y":1.05},{"m":"h","t":36,"y":1.07},{"m":"h","t":37,"y":1.02},{"m":"h","t":38,"y":1.09},{"m":"h","t":39,"y":1.05},{"m":"h","t":40,"y":1.08},
{"m":"h","t":41,"y":1.1},{"m":"h","t":42,"y":1.06},{"m":"h","t":43,"y":1.12},{"m":"h","t":44,"y":1.07},{"m":"h","t":45,"y":1.11},{"m":"h","t":46,"y":1.12},{"m":"h","t":47,"y":1.08},{"m":"h","t":48,"y":1.14},{"m":"h","t":49,"y":1.1},{"m":"h","t":50,"y":1.13},
{"m":"h","t":51,"y":1.16},{"m":"h","t":52,"y":1.11},{"m":"h","t":53,"y":1.17},{"m":"h","t":54,"y":1.12},{"m":"h","t":55,"y":1.15},{"m":"h","t":56,"y":1.16},{"m":"h","t":57,"y":1.11},{"m":"h","t":58,"y":1.17},{"m":"h","t":59,"y":1.14},{"m":"h","t":60,"y":1.15},
{"m":"h","t":61,"y":1.19},{"m":"h","t":62,"y":1.14},{"m":"h","t":63,"y":1.2},{"m":"h","t":64,"y":1.15},{"m":"h","t":65,"y":1.18},{"m":"h","t":66,"y":1.19},{"m":"h","t":67,"y":1.14},{"m":"h","t":68,"y":1.21},{"m":"h","t":69,"y":1.17},{"m":"h","t":70,"y":1.2},
{"m":"h","t":71,"y":1.23},{"m":"h","t":72,"y":1.19},{"m":"h","t":73,"y":1.26},{"m":"h","t":74,"y":1.22},{"m":"h","t":75,"y":1.25},{"m":"h","t":76,"y":1.27},{"m":"h","t":77,"y":1.22},{"m":"h","t":78,"y":1.29},{"m":"h","t":79,"y":1.25},{"m":"h","t":80,"y":1.28},
{"m":"h","t":81,"y":1.31},{"m":"h","t":82,"y":1.27},{"m":"h","t":83,"y":1.34},{"m":"h","t":84,"y":1.29},{"m":"h","t":85,"y":1.33},{"m":"h","t":86,"y":1.35},{"m":"h","t":87,"y":1.3},{"m":"h","t":88,"y":1.37},{"m":"h","t":89,"y":1.33},{"m":"h","t":90,"y":1.36},
{"m":"h","t":91,"y":1.39},{"m":"h","t":92,"y":1.35},{"m":"h","t":93,"y":1.42},{"m":"h","t":94,"y":1.37},{"m":"h","t":95,"y":1.41},{"m":"h","t":96,"y":1.43},{"m":"h","t":97,"y":1.38},{"m":"h","t":98,"y":1.45},{"m":"h","t":99,"y":1.41},{"m":"h","t":100,"y":1.45},
{"m":"h","t":101,"y":1.48},{"m":"h","t":102,"y":1.43},{"m":"h","t":103,"y":1.5},{"m":"h","t":104,"y":1.45},{"m":"h","t":105,"y":1.49},{"m":"h","t":106,"y":1.5},{"m":"h","t":107,"y":1.45},{"m":"h","t":108,"y":1.52},{"m":"h","t":109,"y":1.48},{"m":"h","t":110,"y":1.5},
{"m":"h","t":111,"y":1.53},{"m":"h","t":112,"y":1.48},{"m":"h","t":113,"y":1.55},{"m":"h","t":114,"y":1.5},{"m":"h","t":115,"y":1.54},{"m":"h","t":116,"y":1.55},{"m":"h","t":117,"y":1.5},{"m":"h","t":118,"y":1.57},{"m":"h","t":119,"y":1.53},{"m":"h","t":120,"y":1.55},
{"m":"h","t":121,"y":1.58},{"m":"h","t":122,"y":1.53},{"m":"h","t":123,"y":1.6},{"m":"h","t":124,"y":1.55},{"m":"h","t":125,"y":1.59},{"m":"h","t":126,"y":1.6},{"m":"h","t":127,"y":1.55},{"m":"h","t":128,"y":1.62},{"m":"h","t":129,"y":1.58},{"m":"h","t":130,"y":1.6},
{"m":"h","t":131,"y":1.63},{"m":"h","t":132,"y":1.58},{"m":"h","t":133,"y":1.65},{"m":"h","t":134,"y":1.6},{"m":"h","t":135,"y":1.64},{"m":"h","t":136,"y":1.65},{"m":"h","t":137,"y":1.6},{"m":"h","t":138,"y":1.67},{"m":"h","t":139,"y":1.63},{"m":"h","t":140,"y":1.65},
{"m":"h","t":141,"y":1.68},{"m":"h","t":142,"y":1.63},{"m":"h","t":143,"y":1.7},{"m":"h","t":144,"y":1.65},{"m":"h","t":145,"y":1.69},{"m":"h","t":146,"y":1.7},{"m":"h","t":147,"y":1.65},{"m":"h","t":148,"y":1.72},{"m":"h","t":149,"y":1.68},{"m":"h","t":150,"y":1.7},
{"m":"i","t":1,"y":1.0},{"m":"i","t":2,"y":0.3},{"m":"i","t":3,"y":1.6},{"m":"i","t":4,"y":-0.87},{"m":"i","t":5,"y":2.6},{"m":"i","t":6,"y":3.2},{"m":"i","t":7,"y":1.9},{"m":"i","t":8,"y":2.4},{"m":"i","t":9,"y":1.51},{"m":"i","t":10,"y":1.2},
{"m":"i","t":11,"y":2.0},{"m":"i","t":12,"y":2.8},{"m":"i","t":13,"y":1.7},{"m":"i","t":14,"y":3.26},{"m":"i","t":15,"y":2.52},{"m":"i","t":16,"y":3.33},{"m":"i","t":17,"y":3.74},{"m":"i","t":18,"y":2.96},{"m":"i","t":19,"y":2.38},{"m":"i","t":20,"y":1.99},
{"m":"i","t":21,"y":2.3},{"m":"i","t":22,"y":2.35},{"m":"i","t":23,"y":2.2},{"m":"i","t":24,"y":2.25},{"m":"i","t":25,"y":2.3},{"m":"i","t":26,"y":2.38},{"m":"i","t":27,"y":2.12},{"m":"i","t":28,"y":2.2},{"m":"i","t":29,"y":2.1},{"m":"i","t":30,"y":2.05},
{"m":"i","t":31,"y":2.01},{"m":"i","t":32,"y":1.97},{"m":"i","t":33,"y":1.96},{"m":"i","t":34,"y":1.91},{"m":"i","t":35,"y":1.91},{"m":"i","t":36,"y":1.87},{"m":"i","t":37,"y":1.83},{"m":"i","t":38,"y":1.83},{"m":"i","t":39,"y":1.78},{"m":"i","t":40,"y":1.77},
{"m":"i","t":41,"y":1.75},{"m":"i","t":42,"y":1.71},{"m":"i","t":43,"y":1.71},{"m":"i","t":44,"y":1.66},{"m":"i","t":45,"y":1.66},{"m":"i","t":46,"y":1.64},{"m":"i","t":47,"y":1.6},{"m":"i","t":48,"y":1.61},{"m":"i","t":49,"y":1.57},{"m":"i","t":50,"y":1.56},
{"m":"i","t":51,"y":1.56},{"m":"i","t":52,"y":1.53},{"m":"i","t":53,"y":1.55},{"m":"i","t":54,"y":1.52},{"m":"i","t":55,"y":1.53},{"m":"i","t":56,"y":1.53},{"m":"i","t":57,"y":1.5},{"m":"i","t":58,"y":1.53},{"m":"i","t":59,"y":1.51},{"m":"i","t":60,"y":1.51},
{"m":"i","t":61,"y":1.52},{"m":"i","t":62,"y":1.49},{"m":"i","t":63,"y":1.51},{"m":"i","t":64,"y":1.48},{"m":"i","t":65,"y":1.5},{"m":"i","t":66,"y":1.5},{"m":"i","t":67,"y":1.47},{"m":"i","t":68,"y":1.5},{"m":"i","t":69,"y":1.48},{"m":"i","t":70,"y":1.48},
{"m":"i","t":71,"y":1.5},{"m":"i","t":72,"y":1.47},{"m":"i","t":73,"y":1.5},{"m":"i","t":74,"y":1.47},{"m":"i","t":75,"y":1.49},{"m":"i","t":76,"y":1.5},{"m":"i","t":77,"y":1.47},{"m":"i","t":78,"y":1.51},{"m":"i","t":79,"y":1.49},{"m":"i","t":80,"y":1.5},
{"m":"i","t":81,"y":1.52},{"m":"i","t":82,"y":1.49},{"m":"i","t":83,"y":1.52},{"m":"i","t":84,"y":1.49},{"m":"i","t":85,"y":1.51},{"m":"i","t":86,"y":1.52},{"m":"i","t":87,"y":1.49},{"m":"i","t":88,"y":1.53},{"m":"i","t":89,"y":1.51},{"m":"i","t":90,"y":1.52},
{"m":"i","t":91,"y":1.54},{"m":"i","t":92,"y":1.51},{"m":"i","t":93,"y":1.54},{"m":"i","t":94,"y":1.51},{"m":"i","t":95,"y":1.53},{"m":"i","t":96,"y":1.54},{"m":"i","t":97,"y":1.51},{"m":"i","t":98,"y":1.55},{"m":"i","t":99,"y":1.53},{"m":"i","t":100,"y":1.55},
{"m":"i","t":101,"y":1.57},{"m":"i","t":102,"y":1.54},{"m":"i","t":103,"y":1.57},{"m":"i","t":104,"y":1.54},{"m":"i","t":105,"y":1.56},{"m":"i","t":106,"y":1.57},{"m":"i","t":107,"y":1.54},{"m":"i","t":108,"y":1.59},{"m":"i","t":109,"y":1.57},{"m":"i","t":110,"y":1.58},
{"m":"i","t":111,"y":1.6},{"m":"i","t":112,"y":1.57},{"m":"i","t":113,"y":1.6},{"m":"i","t":114,"y":1.57},{"m":"i","t":115,"y":1.59},{"m":"i","t":116,"y":1.6},{"m":"i","t":117,"y":1.57},{"m":"i","t":118,"y":1.62},{"m":"i","t":119,"y":1.6},{"m":"i","t":120,"y":1.61},
{"m":"i","t":121,"y":1.63},{"m":"i","t":122,"y":1.6},{"m":"i","t":123,"y":1.63},{"m":"i","t":124,"y":1.6},{"m":"i","t":125,"y":1.62},{"m":"i","t":126,"y":1.63},{"m":"i","t":127,"y":1.6},{"m":"i","t":128,"y":1.65},{"m":"i","t":129,"y":1.63},{"m":"i","t":130,"y":1.64},
{"m":"i","t":131,"y":1.66},{"m":"i","t":132,"y":1.63},{"m":"i","t":133,"y":1.66},{"m":"i","t":134,"y":1.63},{"m":"i","t":135,"y":1.65},{"m":"i","t":136,"y":1.66},{"m":"i","t":137,"y":1.63},{"m":"i","t":138,"y":1.68},{"m":"i","t":139,"y":1.66},{"m":"i","t":140,"y":1.67},
{"m":"i","t":141,"y":1.69},{"m":"i","t":142,"y":1.66},{"m":"i","t":143,"y":1.69},{"m":"i","t":144,"y":1.66},{"m":"i","t":145,"y":1.68},{"m":"i","t":146,"y":1.69},{"m":"i","t":147,"y":1.66},{"m":"i","t":148,"y":1.71},{"m":"i","t":149,"y":1.69},{"m":"i","t":150,"y":1.7},
{"m":"j","t":1,"y":1.2},{"m":"j","t":2,"y":1.08},{"m":"j","t":3,"y":0.6},{"m":"j","t":4,"y":1.1},{"m":"j","t":5,"y":2.09},{"m":"j","t":6,"y":1.5},{"m":"j","t":7,"y":0.9},{"m":"j","t":8,"y":0.69},{"m":"j","t":9,"y":0.5},{"m":"j","t":10,"y":0.2},
{"m":"j","t":11,"y":0.95},{"m":"j","t":12,"y":1.1},{"m":"j","t":13,"y":0.75},{"m":"j","t":14,"y":0.8},{"m":"j","t":15,"y":0.9},{"m":"j","t":16,"y":1.04},{"m":"j","t":17,"y":0.86},{"m":"j","t":18,"y":1.2},{"m":"j","t":19,"y":1.1},{"m":"j","t":20,"y":1.15},
{"m":"j","t":21,"y":1.25},{"m":"j","t":22,"y":1.3},{"m":"j","t":23,"y":1.35},{"m":"j","t":24,"y":1.3},{"m":"j","t":25,"y":1.3},{"m":"j","t":26,"y":1.25},{"m":"j","t":27,"y":1.24},{"m":"j","t":28,"y":1.22},{"m":"j","t":29,"y":1.22},{"m":"j","t":30,"y":1.22},
{"m":"j","t":31,"y":1.24},{"m":"j","t":32,"y":1.22},{"m":"j","t":33,"y":1.27},{"m":"j","t":34,"y":1.25},{"m":"j","t":35,"y":1.28},{"m":"j","t":36,"y":1.3},{"m":"j","t":37,"y":1.28},{"m":"j","t":38,"y":1.33},{"m":"j","t":39,"y":1.31},{"m":"j","t":40,"y":1.32},
{"m":"j","t":41,"y":1.33},{"m":"j","t":42,"y":1.32},{"m":"j","t":43,"y":1.36},{"m":"j","t":44,"y":1.33},{"m":"j","t":45,"y":1.36},{"m":"j","t":46,"y":1.37},{"m":"j","t":47,"y":1.35},{"m":"j","t":48,"y":1.4},{"m":"j","t":49,"y":1.38},{"m":"j","t":50,"y":1.4},
{"m":"j","t":51,"y":1.42},{"m":"j","t":52,"y":1.39},{"m":"j","t":53,"y":1.42},{"m":"j","t":54,"y":1.4},{"m":"j","t":55,"y":1.42},{"m":"j","t":56,"y":1.44},{"m":"j","t":57,"y":1.41},{"m":"j","t":58,"y":1.45},{"m":"j","t":59,"y":1.43},{"m":"j","t":60,"y":1.44},
{"m":"j","t":61,"y":1.46},{"m":"j","t":62,"y":1.43},{"m":"j","t":63,"y":1.46},{"m":"j","t":64,"y":1.44},{"m":"j","t":65,"y":1.46},{"m":"j","t":66,"y":1.48},{"m":"j","t":67,"y":1.45},{"m":"j","t":68,"y":1.49},{"m":"j","t":69,"y":1.47},{"m":"j","t":70,"y":1.48},
{"m":"j","t":71,"y":1.5},{"m":"j","t":72,"y":1.47},{"m":"j","t":73,"y":1.5},{"m":"j","t":74,"y":1.48},{"m":"j","t":75,"y":1.5},{"m":"j","t":76,"y":1.51},{"m":"j","t":77,"y":1.49},{"m":"j","t":78,"y":1.52},{"m":"j","t":79,"y":1.5},{"m":"j","t":80,"y":1.51},
{"m":"j","t":81,"y":1.53},{"m":"j","t":82,"y":1.5},{"m":"j","t":83,"y":1.53},{"m":"j","t":84,"y":1.51},{"m":"j","t":85,"y":1.53},{"m":"j","t":86,"y":1.54},{"m":"j","t":87,"y":1.52},{"m":"j","t":88,"y":1.55},{"m":"j","t":89,"y":1.53},{"m":"j","t":90,"y":1.55},
{"m":"j","t":91,"y":1.57},{"m":"j","t":92,"y":1.54},{"m":"j","t":93,"y":1.57},{"m":"j","t":94,"y":1.54},{"m":"j","t":95,"y":1.56},{"m":"j","t":96,"y":1.57},{"m":"j","t":97,"y":1.54},{"m":"j","t":98,"y":1.58},{"m":"j","t":99,"y":1.56},{"m":"j","t":100,"y":1.56},
{"m":"j","t":101,"y":1.58},{"m":"j","t":102,"y":1.55},{"m":"j","t":103,"y":1.58},{"m":"j","t":104,"y":1.55},{"m":"j","t":105,"y":1.57},{"m":"j","t":106,"y":1.58},{"m":"j","t":107,"y":1.55},{"m":"j","t":108,"y":1.59},{"m":"j","t":109,"y":1.57},{"m":"j","t":110,"y":1.57},
{"m":"j","t":111,"y":1.58},{"m":"j","t":112,"y":1.55},{"m":"j","t":113,"y":1.58},{"m":"j","t":114,"y":1.55},{"m":"j","t":115,"y":1.57},{"m":"j","t":116,"y":1.58},{"m":"j","t":117,"y":1.55},{"m":"j","t":118,"y":1.59},{"m":"j","t":119,"y":1.57},{"m":"j","t":120,"y":1.57},
{"m":"j","t":121,"y":1.6},{"m":"j","t":122,"y":1.57},{"m":"j","t":123,"y":1.6},{"m":"j","t":124,"y":1.57},{"m":"j","t":125,"y":1.59},{"m":"j","t":126,"y":1.6},{"m":"j","t":127,"y":1.57},{"m":"j","t":128,"y":1.61},{"m":"j","t":129,"y":1.59},{"m":"j","t":130,"y":1.59},
{"m":"j","t":131,"y":1.6},{"m":"j","t":132,"y":1.57},{"m":"j","t":133,"y":1.6},{"m":"j","t":134,"y":1.57},{"m":"j","t":135,"y":1.59},{"m":"j","t":136,"y":1.6},{"m":"j","t":137,"y":1.57},{"m":"j","t":138,"y":1.61},{"m":"j","t":139,"y":1.59},{"m":"j","t":140,"y":1.59},
{"m":"j","t":141,"y":1.6},{"m":"j","t":142,"y":1.57},{"m":"j","t":143,"y":1.6},{"m":"j","t":144,"y":1.57},{"m":"j","t":145,"y":1.59},{"m":"j","t":146,"y":1.6},{"m":"j","t":147,"y":1.57},{"m":"j","t":148,"y":1.61},{"m":"j","t":149,"y":1.59},{"m":"j","t":150,"y":1.59},
{"m":"k","t":1,"y":1.43},{"m":"k","t":2,"y":1.69},{"m":"k","t":3,"y":0.9},{"m":"k","t":4,"y":-0.65},{"m":"k","t":5,"y":-0.62},{"m":"k","t":6,"y":2.69},{"m":"k","t":7,"y":3.48},{"m":"k","t":8,"y":1.2},{"m":"k","t":9,"y":1.92},{"m":"k","t":10,"y":2.56},
{"m":"k","t":11,"y":2.27},{"m":"k","t":12,"y":1.3},{"m":"k","t":13,"y":1.8},{"m":"k","t":14,"y":3.96},{"m":"k","t":15,"y":2.1},{"m":"k","t":16,"y":1.5},{"m":"k","t":17,"y":2.5},{"m":"k","t":18,"y":3.85},{"m":"k","t":19,"y":2.99},{"m":"k","t":20,"y":2.95},
{"m":"k","t":21,"y":2.29},{"m":"k","t":22,"y":2.3},{"m":"k","t":23,"y":2.1},{"m":"k","t":24,"y":2.0},{"m":"k","t":25,"y":1.95},{"m":"k","t":26,"y":1.9},{"m":"k","t":27,"y":1.95},{"m":"k","t":28,"y":2.0},{"m":"k","t":29,"y":1.92},{"m":"k","t":30,"y":1.9},
{"m":"k","t":31,"y":1.89},{"m":"k","t":32,"y":1.85},{"m":"k","t":33,"y":1.86},{"m":"k","t":34,"y":1.81},{"m":"k","t":35,"y":1.8},{"m":"k","t":36,"y":1.79},{"m":"k","t":37,"y":1.74},{"m":"k","t":38,"y":1.76},{"m":"k","t":39,"y":1.71},{"m":"k","t":40,"y":1.72},
{"m":"k","t":41,"y":1.7},{"m":"k","t":42,"y":1.66},{"m":"k","t":43,"y":1.68},{"m":"k","t":44,"y":1.63},{"m":"k","t":45,"y":1.64},{"m":"k","t":46,"y":1.63},{"m":"k","t":47,"y":1.58},{"m":"k","t":48,"y":1.6},{"m":"k","t":49,"y":1.56},{"m":"k","t":50,"y":1.56},
{"m":"k","t":51,"y":1.56},{"m":"k","t":52,"y":1.52},{"m":"k","t":53,"y":1.54},{"m":"k","t":54,"y":1.5},{"m":"k","t":55,"y":1.51},{"m":"k","t":56,"y":1.51},{"m":"k","t":57,"y":1.47},{"m":"k","t":58,"y":1.5},{"m":"k","t":59,"y":1.47},{"m":"k","t":60,"y":1.48},
{"m":"k","t":61,"y":1.49},{"m":"k","t":62,"y":1.45},{"m":"k","t":63,"y":1.47},{"m":"k","t":64,"y":1.44},{"m":"k","t":65,"y":1.45},{"m":"k","t":66,"y":1.45},{"m":"k","t":67,"y":1.41},{"m":"k","t":68,"y":1.44},{"m":"k","t":69,"y":1.42},{"m":"k","t":70,"y":1.42},
{"m":"k","t":71,"y":1.43},{"m":"k","t":72,"y":1.4},{"m":"k","t":73,"y":1.42},{"m":"k","t":74,"y":1.39},{"m":"k","t":75,"y":1.4},{"m":"k","t":76,"y":1.41},{"m":"k","t":77,"y":1.37},{"m":"k","t":78,"y":1.4},{"m":"k","t":79,"y":1.38},{"m":"k","t":80,"y":1.38},
{"m":"k","t":81,"y":1.38},{"m":"k","t":82,"y":1.35},{"m":"k","t":83,"y":1.38},{"m":"k","t":84,"y":1.35},{"m":"k","t":85,"y":1.37},{"m":"k","t":86,"y":1.38},{"m":"k","t":87,"y":1.34},{"m":"k","t":88,"y":1.38},{"m":"k","t":89,"y":1.36},{"m":"k","t":90,"y":1.36},
{"m":"k","t":91,"y":1.38},{"m":"k","t":92,"y":1.35},{"m":"k","t":93,"y":1.38},{"m":"k","t":94,"y":1.35},{"m":"k","t":95,"y":1.37},{"m":"k","t":96,"y":1.38},{"m":"k","t":97,"y":1.34},{"m":"k","t":98,"y":1.38},{"m":"k","t":99,"y":1.36},{"m":"k","t":100,"y":1.36},
{"m":"k","t":101,"y":1.38},{"m":"k","t":102,"y":1.35},{"m":"k","t":103,"y":1.38},{"m":"k","t":104,"y":1.35},{"m":"k","t":105,"y":1.37},{"m":"k","t":106,"y":1.38},{"m":"k","t":107,"y":1.34},{"m":"k","t":108,"y":1.38},{"m":"k","t":109,"y":1.36},{"m":"k","t":110,"y":1.36},
{"m":"k","t":111,"y":1.38},{"m":"k","t":112,"y":1.35},{"m":"k","t":113,"y":1.38},{"m":"k","t":114,"y":1.35},{"m":"k","t":115,"y":1.37},{"m":"k","t":116,"y":1.38},{"m":"k","t":117,"y":1.34},{"m":"k","t":118,"y":1.38},{"m":"k","t":119,"y":1.36},{"m":"k","t":120,"y":1.36},
{"m":"k","t":121,"y":1.38},{"m":"k","t":122,"y":1.35},{"m":"k","t":123,"y":1.38},{"m":"k","t":124,"y":1.35},{"m":"k","t":125,"y":1.37},{"m":"k","t":126,"y":1.38},{"m":"k","t":127,"y":1.34},{"m":"k","t":128,"y":1.38},{"m":"k","t":129,"y":1.36},{"m":"k","t":130,"y":1.36},
{"m":"k","t":131,"y":1.38},{"m":"k","t":132,"y":1.35},{"m":"k","t":133,"y":1.38},{"m":"k","t":134,"y":1.35},{"m":"k","t":135,"y":1.37},{"m":"k","t":136,"y":1.38},{"m":"k","t":137,"y":1.34},{"m":"k","t":138,"y":1.38},{"m":"k","t":139,"y":1.36},{"m":"k","t":140,"y":1.36},
{"m":"k","t":141,"y":1.38},{"m":"k","t":142,"y":1.35},{"m":"k","t":143,"y":1.38},{"m":"k","t":144,"y":1.35},{"m":"k","t":145,"y":1.37},{"m":"k","t":146,"y":1.38},{"m":"k","t":147,"y":1.34},{"m":"k","t":148,"y":1.38},{"m":"k","t":149,"y":1.36},{"m":"k","t":150,"y":1.36},
{"m":"l","t":1,"y":1.5},{"m":"l","t":2,"y":1.99},{"m":"l","t":3,"y":1.97},{"m":"l","t":4,"y":0.9},{"m":"l","t":5,"y":1.2},{"m":"l","t":6,"y":0.6},{"m":"l","t":7,"y":0.8},{"m":"l","t":8,"y":0.04},{"m":"l","t":9,"y":0.9},{"m":"l","t":10,"y":0.5},
{"m":"l","t":11,"y":1.3},{"m":"l","t":12,"y":0.7},{"m":"l","t":13,"y":1.0},{"m":"l","t":14,"y":0.6},{"m":"l","t":15,"y":0.4},{"m":"l","t":16,"y":0.2},{"m":"l","t":17,"y":0.35},{"m":"l","t":18,"y":0.27},{"m":"l","t":19,"y":0.6},{"m":"l","t":20,"y":0.9},
{"m":"l","t":21,"y":1.1},{"m":"l","t":22,"y":1.3},{"m":"l","t":23,"y":1.5},{"m":"l","t":24,"y":1.6},{"m":"l","t":25,"y":1.7},{"m":"l","t":26,"y":1.78},{"m":"l","t":27,"y":1.85},{"m":"l","t":28,"y":1.9},{"m":"l","t":29,"y":1.93},{"m":"l","t":30,"y":1.95},
{"m":"l","t":31,"y":1.94},{"m":"l","t":32,"y":1.9},{"m":"l","t":33,"y":1.91},{"m":"l","t":34,"y":1.86},{"m":"l","t":35,"y":1.86},{"m":"l","t":36,"y":1.84},{"m":"l","t":37,"y":1.8},{"m":"l","t":38,"y":1.81},{"m":"l","t":39,"y":1.77},{"m":"l","t":40,"y":1.77},
{"m":"l","t":41,"y":1.77},{"m":"l","t":42,"y":1.74},{"m":"l","t":43,"y":1.77},{"m":"l","t":44,"y":1.75},{"m":"l","t":45,"y":1.78},{"m":"l","t":46,"y":1.79},{"m":"l","t":47,"y":1.77},{"m":"l","t":48,"y":1.81},{"m":"l","t":49,"y":1.79},{"m":"l","t":50,"y":1.81},
{"m":"l","t":51,"y":1.83},{"m":"l","t":52,"y":1.8},{"m":"l","t":53,"y":1.83},{"m":"l","t":54,"y":1.81},{"m":"l","t":55,"y":1.84},{"m":"l","t":56,"y":1.83},{"m":"l","t":57,"y":1.8},{"m":"l","t":58,"y":1.83},{"m":"l","t":59,"y":1.8},{"m":"l","t":60,"y":1.81},
{"m":"l","t":61,"y":1.81},{"m":"l","t":62,"y":1.77},{"m":"l","t":63,"y":1.79},{"m":"l","t":64,"y":1.75},{"m":"l","t":65,"y":1.77},{"m":"l","t":66,"y":1.76},{"m":"l","t":67,"y":1.72},{"m":"l","t":68,"y":1.75},{"m":"l","t":69,"y":1.72},{"m":"l","t":70,"y":1.73},
{"m":"l","t":71,"y":1.73},{"m":"l","t":72,"y":1.7},{"m":"l","t":73,"y":1.72},{"m":"l","t":74,"y":1.68},{"m":"l","t":75,"y":1.7},{"m":"l","t":76,"y":1.7},{"m":"l","t":77,"y":1.66},{"m":"l","t":78,"y":1.69},{"m":"l","t":79,"y":1.67},{"m":"l","t":80,"y":1.67},
{"m":"l","t":81,"y":1.68},{"m":"l","t":82,"y":1.65},{"m":"l","t":83,"y":1.68},{"m":"l","t":84,"y":1.64},{"m":"l","t":85,"y":1.66},{"m":"l","t":86,"y":1.67},{"m":"l","t":87,"y":1.63},{"m":"l","t":88,"y":1.67},{"m":"l","t":89,"y":1.65},{"m":"l","t":90,"y":1.65},
{"m":"l","t":91,"y":1.67},{"m":"l","t":92,"y":1.64},{"m":"l","t":93,"y":1.67},{"m":"l","t":94,"y":1.63},{"m":"l","t":95,"y":1.65},{"m":"l","t":96,"y":1.66},{"m":"l","t":97,"y":1.62},{"m":"l","t":98,"y":1.66},{"m":"l","t":99,"y":1.64},{"m":"l","t":100,"y":1.64},
{"m":"l","t":101,"y":1.66},{"m":"l","t":102,"y":1.63},{"m":"l","t":103,"y":1.66},{"m":"l","t":104,"y":1.62},{"m":"l","t":105,"y":1.64},{"m":"l","t":106,"y":1.65},{"m":"l","t":107,"y":1.61},{"m":"l","t":108,"y":1.65},{"m":"l","t":109,"y":1.63},{"m":"l","t":110,"y":1.63},
{"m":"l","t":111,"y":1.65},{"m":"l","t":112,"y":1.62},{"m":"l","t":113,"y":1.65},{"m":"l","t":114,"y":1.61},{"m":"l","t":115,"y":1.63},{"m":"l","t":116,"y":1.64},{"m":"l","t":117,"y":1.6},{"m":"l","t":118,"y":1.64},{"m":"l","t":119,"y":1.62},{"m":"l","t":120,"y":1.62},
{"m":"l","t":121,"y":1.64},{"m":"l","t":122,"y":1.61},{"m":"l","t":123,"y":1.64},{"m":"l","t":124,"y":1.6},{"m":"l","t":125,"y":1.62},{"m":"l","t":126,"y":1.63},{"m":"l","t":127,"y":1.59},{"m":"l","t":128,"y":1.63},{"m":"l","t":129,"y":1.61},{"m":"l","t":130,"y":1.61},
{"m":"l","t":131,"y":1.64},{"m":"l","t":132,"y":1.61},{"m":"l","t":133,"y":1.64},{"m":"l","t":134,"y":1.6},{"m":"l","t":135,"y":1.62},{"m":"l","t":136,"y":1.63},{"m":"l","t":137,"y":1.59},{"m":"l","t":138,"y":1.63},{"m":"l","t":139,"y":1.61},{"m":"l","t":140,"y":1.61},
{"m":"l","t":141,"y":1.64},{"m":"l","t":142,"y":1.61},{"m":"l","t":143,"y":1.64},{"m":"l","t":144,"y":1.6},{"m":"l","t":145,"y":1.62},{"m":"l","t":146,"y":1.63},{"m":"l","t":147,"y":1.59},{"m":"l","t":148,"y":1.63},{"m":"l","t":149,"y":1.61},{"m":"l","t":150,"y":1.61},
{"m":"mm","t":1,"y":1.1},{"m":"mm","t":2,"y":2.66},{"m":"mm","t":3,"y":1.3},{"m":"mm","t":4,"y":0.8},{"m":"mm","t":5,"y":1.5},{"m":"mm","t":6,"y":1.0},{"m":"mm","t":7,"y":0.6},{"m":"mm","t":8,"y":1.2},{"m":"mm","t":9,"y":2.05},{"m":"mm","t":10,"y":1.4},
{"m":"mm","t":11,"y":0.9},{"m":"mm","t":12,"y":1.1},{"m":"mm","t":13,"y":0.5},{"m":"mm","t":14,"y":0.8},{"m":"mm","t":15,"y":0.6},{"m":"mm","t":16,"y":0.95},{"m":"mm","t":17,"y":1.0},{"m":"mm","t":18,"y":1.15},{"m":"mm","t":19,"y":1.2},{"m":"mm","t":20,"y":1.1},
{"m":"mm","t":21,"y":1.2},{"m":"mm","t":22,"y":1.25},{"m":"mm","t":23,"y":1.3},{"m":"mm","t":24,"y":1.28},{"m":"mm","t":25,"y":1.3},{"m":"mm","t":26,"y":1.3},{"m":"mm","t":27,"y":1.32},{"m":"mm","t":28,"y":1.3},{"m":"mm","t":29,"y":1.31},{"m":"mm","t":30,"y":1.3},
{"m":"mm","t":31,"y":1.31},{"m":"mm","t":32,"y":1.28},{"m":"mm","t":33,"y":1.32},{"m":"mm","t":34,"y":1.29},{"m":"mm","t":35,"y":1.31},{"m":"mm","t":36,"y":1.32},{"m":"mm","t":37,"y":1.29},{"m":"mm","t":38,"y":1.33},{"m":"mm","t":39,"y":1.31},{"m":"mm","t":40,"y":1.32},
{"m":"mm","t":41,"y":1.33},{"m":"mm","t":42,"y":1.3},{"m":"mm","t":43,"y":1.34},{"m":"mm","t":44,"y":1.31},{"m":"mm","t":45,"y":1.33},{"m":"mm","t":46,"y":1.34},{"m":"mm","t":47,"y":1.31},{"m":"mm","t":48,"y":1.35},{"m":"mm","t":49,"y":1.33},{"m":"mm","t":50,"y":1.34},
{"m":"mm","t":51,"y":1.35},{"m":"mm","t":52,"y":1.32},{"m":"mm","t":53,"y":1.36},{"m":"mm","t":54,"y":1.33},{"m":"mm","t":55,"y":1.35},{"m":"mm","t":56,"y":1.36},{"m":"mm","t":57,"y":1.33},{"m":"mm","t":58,"y":1.37},{"m":"mm","t":59,"y":1.35},{"m":"mm","t":60,"y":1.36},
{"m":"mm","t":61,"y":1.37},{"m":"mm","t":62,"y":1.34},{"m":"mm","t":63,"y":1.38},{"m":"mm","t":64,"y":1.35},{"m":"mm","t":65,"y":1.37},{"m":"mm","t":66,"y":1.38},{"m":"mm","t":67,"y":1.35},{"m":"mm","t":68,"y":1.39},{"m":"mm","t":69,"y":1.37},{"m":"mm","t":70,"y":1.38},
{"m":"mm","t":71,"y":1.39},{"m":"mm","t":72,"y":1.36},{"m":"mm","t":73,"y":1.4},{"m":"mm","t":74,"y":1.37},{"m":"mm","t":75,"y":1.39},{"m":"mm","t":76,"y":1.4},{"m":"mm","t":77,"y":1.37},{"m":"mm","t":78,"y":1.41},{"m":"mm","t":79,"y":1.39},{"m":"mm","t":80,"y":1.4},
{"m":"mm","t":81,"y":1.41},{"m":"mm","t":82,"y":1.38},{"m":"mm","t":83,"y":1.42},{"m":"mm","t":84,"y":1.39},{"m":"mm","t":85,"y":1.41},{"m":"mm","t":86,"y":1.42},{"m":"mm","t":87,"y":1.39},{"m":"mm","t":88,"y":1.43},{"m":"mm","t":89,"y":1.41},{"m":"mm","t":90,"y":1.42},
{"m":"mm","t":91,"y":1.43},{"m":"mm","t":92,"y":1.4},{"m":"mm","t":93,"y":1.44},{"m":"mm","t":94,"y":1.41},{"m":"mm","t":95,"y":1.43},{"m":"mm","t":96,"y":1.44},{"m":"mm","t":97,"y":1.41},{"m":"mm","t":98,"y":1.45},{"m":"mm","t":99,"y":1.43},{"m":"mm","t":100,"y":1.44},
{"m":"mm","t":101,"y":1.45},{"m":"mm","t":102,"y":1.42},{"m":"mm","t":103,"y":1.46},{"m":"mm","t":104,"y":1.43},{"m":"mm","t":105,"y":1.45},{"m":"mm","t":106,"y":1.46},{"m":"mm","t":107,"y":1.43},{"m":"mm","t":108,"y":1.47},{"m":"mm","t":109,"y":1.45},{"m":"mm","t":110,"y":1.46},
{"m":"mm","t":111,"y":1.48},{"m":"mm","t":112,"y":1.45},{"m":"mm","t":113,"y":1.49},{"m":"mm","t":114,"y":1.46},{"m":"mm","t":115,"y":1.48},{"m":"mm","t":116,"y":1.49},{"m":"mm","t":117,"y":1.46},{"m":"mm","t":118,"y":1.5},{"m":"mm","t":119,"y":1.48},{"m":"mm","t":120,"y":1.49},
{"m":"mm","t":121,"y":1.51},{"m":"mm","t":122,"y":1.48},{"m":"mm","t":123,"y":1.52},{"m":"mm","t":124,"y":1.49},{"m":"mm","t":125,"y":1.51},{"m":"mm","t":126,"y":1.52},{"m":"mm","t":127,"y":1.49},{"m":"mm","t":128,"y":1.53},{"m":"mm","t":129,"y":1.51},{"m":"mm","t":130,"y":1.52},
{"m":"mm","t":131,"y":1.54},{"m":"mm","t":132,"y":1.51},{"m":"mm","t":133,"y":1.55},{"m":"mm","t":134,"y":1.52},{"m":"mm","t":135,"y":1.54},{"m":"mm","t":136,"y":1.55},{"m":"mm","t":137,"y":1.52},{"m":"mm","t":138,"y":1.56},{"m":"mm","t":139,"y":1.54},{"m":"mm","t":140,"y":1.55},
{"m":"mm","t":141,"y":1.57},{"m":"mm","t":142,"y":1.54},{"m":"mm","t":143,"y":1.58},{"m":"mm","t":144,"y":1.55},{"m":"mm","t":145,"y":1.57},{"m":"mm","t":146,"y":1.58},{"m":"mm","t":147,"y":1.55},{"m":"mm","t":148,"y":1.59},{"m":"mm","t":149,"y":1.57},{"m":"mm","t":150,"y":1.58},
{"m":"n","t":1,"y":-0.4},{"m":"n","t":2,"y":0.9},{"m":"n","t":3,"y":1.5},{"m":"n","t":4,"y":0.5},{"m":"n","t":5,"y":1.1},{"m":"n","t":6,"y":0.3},{"m":"n","t":7,"y":0.95},{"m":"n","t":8,"y":1.4},{"m":"n","t":9,"y":0.7},{"m":"n","t":10,"y":1.0},
{"m":"n","t":11,"y":0.04},{"m":"n","t":12,"y":0.2},{"m":"n","t":13,"y":-0.18},{"m":"n","t":14,"y":0.5},{"m":"n","t":15,"y":0.8},{"m":"n","t":16,"y":1.0},{"m":"n","t":17,"y":0.7},{"m":"n","t":18,"y":1.4},{"m":"n","t":19,"y":1.6},{"m":"n","t":20,"y":1.8},
{"m":"n","t":21,"y":2.81},{"m":"n","t":22,"y":1.9},{"m":"n","t":23,"y":1.7},{"m":"n","t":24,"y":1.6},{"m":"n","t":25,"y":1.55},{"m":"n","t":26,"y":1.52},{"m":"n","t":27,"y":1.5},{"m":"n","t":28,"y":1.5},{"m":"n","t":29,"y":1.49},{"m":"n","t":30,"y":1.5},
{"m":"n","t":31,"y":1.51},{"m":"n","t":32,"y":1.48},{"m":"n","t":33,"y":1.52},{"m":"n","t":34,"y":1.49},{"m":"n","t":35,"y":1.51},{"m":"n","t":36,"y":1.52},{"m":"n","t":37,"y":1.5},{"m":"n","t":38,"y":1.53},{"m":"n","t":39,"y":1.51},{"m":"n","t":40,"y":1.52},
{"m":"n","t":41,"y":1.53},{"m":"n","t":42,"y":1.51},{"m":"n","t":43,"y":1.55},{"m":"n","t":44,"y":1.52},{"m":"n","t":45,"y":1.54},{"m":"n","t":46,"y":1.55},{"m":"n","t":47,"y":1.52},{"m":"n","t":48,"y":1.56},{"m":"n","t":49,"y":1.54},{"m":"n","t":50,"y":1.55},
{"m":"n","t":51,"y":1.56},{"m":"n","t":52,"y":1.53},{"m":"n","t":53,"y":1.57},{"m":"n","t":54,"y":1.54},{"m":"n","t":55,"y":1.56},{"m":"n","t":56,"y":1.57},{"m":"n","t":57,"y":1.55},{"m":"n","t":58,"y":1.58},{"m":"n","t":59,"y":1.56},{"m":"n","t":60,"y":1.57},
{"m":"n","t":61,"y":1.58},{"m":"n","t":62,"y":1.56},{"m":"n","t":63,"y":1.6},{"m":"n","t":64,"y":1.57},{"m":"n","t":65,"y":1.59},{"m":"n","t":66,"y":1.6},{"m":"n","t":67,"y":1.57},{"m":"n","t":68,"y":1.61},{"m":"n","t":69,"y":1.59},{"m":"n","t":70,"y":1.6},
{"m":"n","t":71,"y":1.61},{"m":"n","t":72,"y":1.59},{"m":"n","t":73,"y":1.62},{"m":"n","t":74,"y":1.59},{"m":"n","t":75,"y":1.61},{"m":"n","t":76,"y":1.62},{"m":"n","t":77,"y":1.59},{"m":"n","t":78,"y":1.63},{"m":"n","t":79,"y":1.61},{"m":"n","t":80,"y":1.61},
{"m":"n","t":81,"y":1.61},{"m":"n","t":82,"y":1.59},{"m":"n","t":83,"y":1.62},{"m":"n","t":84,"y":1.59},{"m":"n","t":85,"y":1.61},{"m":"n","t":86,"y":1.62},{"m":"n","t":87,"y":1.59},{"m":"n","t":88,"y":1.63},{"m":"n","t":89,"y":1.61},{"m":"n","t":90,"y":1.61},
{"m":"n","t":91,"y":1.61},{"m":"n","t":92,"y":1.59},{"m":"n","t":93,"y":1.62},{"m":"n","t":94,"y":1.59},{"m":"n","t":95,"y":1.61},{"m":"n","t":96,"y":1.62},{"m":"n","t":97,"y":1.59},{"m":"n","t":98,"y":1.63},{"m":"n","t":99,"y":1.61},{"m":"n","t":100,"y":1.61},
{"m":"n","t":101,"y":1.61},{"m":"n","t":102,"y":1.59},{"m":"n","t":103,"y":1.62},{"m":"n","t":104,"y":1.59},{"m":"n","t":105,"y":1.61},{"m":"n","t":106,"y":1.62},{"m":"n","t":107,"y":1.59},{"m":"n","t":108,"y":1.63},{"m":"n","t":109,"y":1.61},{"m":"n","t":110,"y":1.61},
{"m":"n","t":111,"y":1.63},{"m":"n","t":112,"y":1.6},{"m":"n","t":113,"y":1.64},{"m":"n","t":114,"y":1.61},{"m":"n","t":115,"y":1.63},{"m":"n","t":116,"y":1.64},{"m":"n","t":117,"y":1.61},{"m":"n","t":118,"y":1.65},{"m":"n","t":119,"y":1.63},{"m":"n","t":120,"y":1.63},
{"m":"n","t":121,"y":1.63},{"m":"n","t":122,"y":1.6},{"m":"n","t":123,"y":1.64},{"m":"n","t":124,"y":1.61},{"m":"n","t":125,"y":1.63},{"m":"n","t":126,"y":1.64},{"m":"n","t":127,"y":1.61},{"m":"n","t":128,"y":1.65},{"m":"n","t":129,"y":1.63},{"m":"n","t":130,"y":1.63},
{"m":"n","t":131,"y":1.63},{"m":"n","t":132,"y":1.6},{"m":"n","t":133,"y":1.64},{"m":"n","t":134,"y":1.61},{"m":"n","t":135,"y":1.63},{"m":"n","t":136,"y":1.64},{"m":"n","t":137,"y":1.61},{"m":"n","t":138,"y":1.65},{"m":"n","t":139,"y":1.63},{"m":"n","t":140,"y":1.63},
{"m":"n","t":141,"y":1.63},{"m":"n","t":142,"y":1.6},{"m":"n","t":143,"y":1.64},{"m":"n","t":144,"y":1.61},{"m":"n","t":145,"y":1.63},{"m":"n","t":146,"y":1.64},{"m":"n","t":147,"y":1.61},{"m":"n","t":148,"y":1.65},{"m":"n","t":149,"y":1.63},{"m":"n","t":150,"y":1.63},
{"m":"o","t":1,"y":-0.3},{"m":"o","t":2,"y":1.08},{"m":"o","t":3,"y":0.5},{"m":"o","t":4,"y":1.2},{"m":"o","t":5,"y":1.0},{"m":"o","t":6,"y":1.43},{"m":"o","t":7,"y":1.6},{"m":"o","t":8,"y":1.3},{"m":"o","t":9,"y":1.75},{"m":"o","t":10,"y":1.55},
{"m":"o","t":11,"y":1.9},{"m":"o","t":12,"y":1.45},{"m":"o","t":13,"y":1.8},{"m":"o","t":14,"y":1.95},{"m":"o","t":15,"y":1.7},{"m":"o","t":16,"y":2.09},{"m":"o","t":17,"y":1.6},{"m":"o","t":18,"y":1.85},{"m":"o","t":19,"y":1.75},{"m":"o","t":20,"y":1.9},
{"m":"o","t":21,"y":2.0},{"m":"o","t":22,"y":1.85},{"m":"o","t":23,"y":2.2},{"m":"o","t":24,"y":2.44},{"m":"o","t":25,"y":2.27},{"m":"o","t":26,"y":2.1},{"m":"o","t":27,"y":2.05},{"m":"o","t":28,"y":2.0},{"m":"o","t":29,"y":1.95},{"m":"o","t":30,"y":1.92},
{"m":"o","t":31,"y":1.88},{"m":"o","t":32,"y":1.85},{"m":"o","t":33,"y":1.83},{"m":"o","t":34,"y":1.8},{"m":"o","t":35,"y":1.76},{"m":"o","t":36,"y":1.74},{"m":"o","t":37,"y":1.7},{"m":"o","t":38,"y":1.68},{"m":"o","t":39,"y":1.65},{"m":"o","t":40,"y":1.62},
{"m":"o","t":41,"y":1.61},{"m":"o","t":42,"y":1.58},{"m":"o","t":43,"y":1.57},{"m":"o","t":44,"y":1.55},{"m":"o","t":45,"y":1.55},{"m":"o","t":46,"y":1.53},{"m":"o","t":47,"y":1.51},{"m":"o","t":48,"y":1.5},{"m":"o","t":49,"y":1.49},{"m":"o","t":50,"y":1.48},
{"m":"o","t":51,"y":1.48},{"m":"o","t":52,"y":1.46},{"m":"o","t":53,"y":1.47},{"m":"o","t":54,"y":1.45},{"m":"o","t":55,"y":1.45},{"m":"o","t":56,"y":1.46},{"m":"o","t":57,"y":1.44},{"m":"o","t":58,"y":1.45},{"m":"o","t":59,"y":1.44},{"m":"o","t":60,"y":1.45},
{"m":"o","t":61,"y":1.46},{"m":"o","t":62,"y":1.45},{"m":"o","t":63,"y":1.47},{"m":"o","t":64,"y":1.46},{"m":"o","t":65,"y":1.47},{"m":"o","t":66,"y":1.48},{"m":"o","t":67,"y":1.47},{"m":"o","t":68,"y":1.49},{"m":"o","t":69,"y":1.48},{"m":"o","t":70,"y":1.49},
{"m":"o","t":71,"y":1.5},{"m":"o","t":72,"y":1.49},{"m":"o","t":73,"y":1.51},{"m":"o","t":74,"y":1.5},{"m":"o","t":75,"y":1.51},{"m":"o","t":76,"y":1.52},{"m":"o","t":77,"y":1.51},{"m":"o","t":78,"y":1.53},{"m":"o","t":79,"y":1.52},{"m":"o","t":80,"y":1.53},
{"m":"o","t":81,"y":1.54},{"m":"o","t":82,"y":1.53},{"m":"o","t":83,"y":1.55},{"m":"o","t":84,"y":1.54},{"m":"o","t":85,"y":1.55},{"m":"o","t":86,"y":1.56},{"m":"o","t":87,"y":1.55},{"m":"o","t":88,"y":1.57},{"m":"o","t":89,"y":1.56},{"m":"o","t":90,"y":1.57},
{"m":"o","t":91,"y":1.58},{"m":"o","t":92,"y":1.57},{"m":"o","t":93,"y":1.59},{"m":"o","t":94,"y":1.58},{"m":"o","t":95,"y":1.59},{"m":"o","t":96,"y":1.6},{"m":"o","t":97,"y":1.59},{"m":"o","t":98,"y":1.61},{"m":"o","t":99,"y":1.6},{"m":"o","t":100,"y":1.61},
{"m":"o","t":101,"y":1.62},{"m":"o","t":102,"y":1.61},{"m":"o","t":103,"y":1.63},{"m":"o","t":104,"y":1.62},{"m":"o","t":105,"y":1.63},{"m":"o","t":106,"y":1.64},{"m":"o","t":107,"y":1.63},{"m":"o","t":108,"y":1.65},{"m":"o","t":109,"y":1.64},{"m":"o","t":110,"y":1.65},
{"m":"o","t":111,"y":1.66},{"m":"o","t":112,"y":1.65},{"m":"o","t":113,"y":1.67},{"m":"o","t":114,"y":1.66},{"m":"o","t":115,"y":1.67},{"m":"o","t":116,"y":1.68},{"m":"o","t":117,"y":1.67},{"m":"o","t":118,"y":1.69},{"m":"o","t":119,"y":1.68},{"m":"o","t":120,"y":1.69},
{"m":"o","t":121,"y":1.7},{"m":"o","t":122,"y":1.69},{"m":"o","t":123,"y":1.71},{"m":"o","t":124,"y":1.7},{"m":"o","t":125,"y":1.71},{"m":"o","t":126,"y":1.72},{"m":"o","t":127,"y":1.71},{"m":"o","t":128,"y":1.73},{"m":"o","t":129,"y":1.72},{"m":"o","t":130,"y":1.73},
{"m":"o","t":131,"y":1.74},{"m":"o","t":132,"y":1.73},{"m":"o","t":133,"y":1.75},{"m":"o","t":134,"y":1.74},{"m":"o","t":135,"y":1.75},{"m":"o","t":136,"y":1.76},{"m":"o","t":137,"y":1.75},{"m":"o","t":138,"y":1.77},{"m":"o","t":139,"y":1.76},{"m":"o","t":140,"y":1.77},
{"m":"p","t":1,"y":0.53},{"m":"p","t":2,"y":0.95},{"m":"p","t":3,"y":1.4},{"m":"p","t":4,"y":3.66},{"m":"p","t":5,"y":0.21},{"m":"p","t":6,"y":0.9},{"m":"p","t":7,"y":1.99},{"m":"p","t":8,"y":1.3},{"m":"p","t":9,"y":1.7},{"m":"p","t":10,"y":2.27},
{"m":"p","t":11,"y":2.2},{"m":"p","t":12,"y":1.5},{"m":"p","t":13,"y":1.9},{"m":"p","t":14,"y":2.1},{"m":"p","t":15,"y":1.6},{"m":"p","t":16,"y":2.61},{"m":"p","t":17,"y":3.3},{"m":"p","t":18,"y":3.69},{"m":"p","t":19,"y":2.78},{"m":"p","t":20,"y":2.0},
{"m":"p","t":21,"y":1.9},{"m":"p","t":22,"y":1.8},{"m":"p","t":23,"y":2.1},{"m":"p","t":24,"y":1.85},{"m":"p","t":25,"y":1.7},{"m":"p","t":26,"y":1.6},{"m":"p","t":27,"y":1.52},{"m":"p","t":28,"y":1.45},{"m":"p","t":29,"y":1.42},{"m":"p","t":30,"y":1.38},
{"m":"p","t":31,"y":1.37},{"m":"p","t":32,"y":1.36},{"m":"p","t":33,"y":1.34},{"m":"p","t":34,"y":1.34},{"m":"p","t":35,"y":1.33},{"m":"p","t":36,"y":1.32},{"m":"p","t":37,"y":1.31},{"m":"p","t":38,"y":1.3},{"m":"p","t":39,"y":1.29},{"m":"p","t":40,"y":1.28},
{"m":"p","t":41,"y":1.27},{"m":"p","t":42,"y":1.26},{"m":"p","t":43,"y":1.25},{"m":"p","t":44,"y":1.23},{"m":"p","t":45,"y":1.22},{"m":"p","t":46,"y":1.22},{"m":"p","t":47,"y":1.21},{"m":"p","t":48,"y":1.2},{"m":"p","t":49,"y":1.2},{"m":"p","t":50,"y":1.19},
{"m":"p","t":51,"y":1.19},{"m":"p","t":52,"y":1.18},{"m":"p","t":53,"y":1.19},{"m":"p","t":54,"y":1.18},{"m":"p","t":55,"y":1.19},{"m":"p","t":56,"y":1.19},{"m":"p","t":57,"y":1.2},{"m":"p","t":58,"y":1.2},{"m":"p","t":59,"y":1.21},{"m":"p","t":60,"y":1.22},
{"m":"p","t":61,"y":1.23},{"m":"p","t":62,"y":1.24},{"m":"p","t":63,"y":1.25},{"m":"p","t":64,"y":1.25},{"m":"p","t":65,"y":1.26},{"m":"p","t":66,"y":1.27},{"m":"p","t":67,"y":1.28},{"m":"p","t":68,"y":1.29},{"m":"p","t":69,"y":1.29},{"m":"p","t":70,"y":1.3},
{"m":"p","t":71,"y":1.31},{"m":"p","t":72,"y":1.31},{"m":"p","t":73,"y":1.32},{"m":"p","t":74,"y":1.33},{"m":"p","t":75,"y":1.33},{"m":"p","t":76,"y":1.34},{"m":"p","t":77,"y":1.34},{"m":"p","t":78,"y":1.35},{"m":"p","t":79,"y":1.35},{"m":"p","t":80,"y":1.36},
{"m":"p","t":81,"y":1.36},{"m":"p","t":82,"y":1.37},{"m":"p","t":83,"y":1.37},{"m":"p","t":84,"y":1.37},{"m":"p","t":85,"y":1.38},{"m":"p","t":86,"y":1.38},{"m":"p","t":87,"y":1.38},{"m":"p","t":88,"y":1.39},{"m":"p","t":89,"y":1.39},{"m":"p","t":90,"y":1.39},
{"m":"p","t":91,"y":1.39},{"m":"p","t":92,"y":1.4},{"m":"p","t":93,"y":1.4},{"m":"p","t":94,"y":1.4},{"m":"p","t":95,"y":1.4},{"m":"p","t":96,"y":1.4},{"m":"p","t":97,"y":1.41},{"m":"p","t":98,"y":1.4},{"m":"p","t":99,"y":1.41},{"m":"p","t":100,"y":1.4},
{"m":"p","t":101,"y":1.41},{"m":"p","t":102,"y":1.4},{"m":"p","t":103,"y":1.41},{"m":"p","t":104,"y":1.4},{"m":"p","t":105,"y":1.41},{"m":"p","t":106,"y":1.4},{"m":"p","t":107,"y":1.41},{"m":"p","t":108,"y":1.4},{"m":"p","t":109,"y":1.41},{"m":"p","t":110,"y":1.4},
{"m":"p","t":111,"y":1.41},{"m":"p","t":112,"y":1.4},{"m":"p","t":113,"y":1.41},{"m":"p","t":114,"y":1.4},{"m":"p","t":115,"y":1.41},{"m":"p","t":116,"y":1.4},{"m":"p","t":117,"y":1.41},{"m":"p","t":118,"y":1.4},{"m":"p","t":119,"y":1.41},{"m":"p","t":120,"y":1.4},
{"m":"p","t":121,"y":1.4},{"m":"p","t":122,"y":1.39},{"m":"p","t":123,"y":1.4},{"m":"p","t":124,"y":1.39},{"m":"p","t":125,"y":1.4},{"m":"p","t":126,"y":1.39},{"m":"p","t":127,"y":1.4},{"m":"p","t":128,"y":1.39},{"m":"p","t":129,"y":1.39},{"m":"p","t":130,"y":1.38},
{"m":"p","t":131,"y":1.4},{"m":"p","t":132,"y":1.39},{"m":"p","t":133,"y":1.4},{"m":"p","t":134,"y":1.39},{"m":"p","t":135,"y":1.4},{"m":"p","t":136,"y":1.39},{"m":"p","t":137,"y":1.4},{"m":"p","t":138,"y":1.39},{"m":"p","t":139,"y":1.39},{"m":"p","t":140,"y":1.38},
{"m":"q","t":1,"y":1.56},{"m":"q","t":2,"y":0.9},{"m":"q","t":3,"y":0.21},{"m":"q","t":4,"y":0.34},{"m":"q","t":5,"y":1.17},{"m":"q","t":6,"y":0.8},{"m":"q","t":7,"y":1.0},{"m":"q","t":8,"y":0.7},{"m":"q","t":9,"y":0.99},{"m":"q","t":10,"y":1.19},
{"m":"q","t":11,"y":1.31},{"m":"q","t":12,"y":0.9},{"m":"q","t":13,"y":0.75},{"m":"q","t":14,"y":1.1},{"m":"q","t":15,"y":1.05},{"m":"q","t":16,"y":1.15},{"m":"q","t":17,"y":1.2},{"m":"q","t":18,"y":1.2},{"m":"q","t":19,"y":1.25},{"m":"q","t":20,"y":1.28},
{"m":"q","t":21,"y":1.3},{"m":"q","t":22,"y":1.32},{"m":"q","t":23,"y":1.33},{"m":"q","t":24,"y":1.35},{"m":"q","t":25,"y":1.37},{"m":"q","t":26,"y":1.38},{"m":"q","t":27,"y":1.4},{"m":"q","t":28,"y":1.42},{"m":"q","t":29,"y":1.43},{"m":"q","t":30,"y":1.45},
{"m":"q","t":31,"y":1.46},{"m":"q","t":32,"y":1.44},{"m":"q","t":33,"y":1.48},{"m":"q","t":34,"y":1.45},{"m":"q","t":35,"y":1.47},{"m":"q","t":36,"y":1.49},{"m":"q","t":37,"y":1.46},{"m":"q","t":38,"y":1.5},{"m":"q","t":39,"y":1.48},{"m":"q","t":40,"y":1.5},
{"m":"q","t":41,"y":1.51},{"m":"q","t":42,"y":1.49},{"m":"q","t":43,"y":1.53},{"m":"q","t":44,"y":1.5},{"m":"q","t":45,"y":1.52},{"m":"q","t":46,"y":1.54},{"m":"q","t":47,"y":1.51},{"m":"q","t":48,"y":1.55},{"m":"q","t":49,"y":1.53},{"m":"q","t":50,"y":1.55},
{"m":"q","t":51,"y":1.56},{"m":"q","t":52,"y":1.54},{"m":"q","t":53,"y":1.57},{"m":"q","t":54,"y":1.55},{"m":"q","t":55,"y":1.57},{"m":"q","t":56,"y":1.58},{"m":"q","t":57,"y":1.55},{"m":"q","t":58,"y":1.59},{"m":"q","t":59,"y":1.57},{"m":"q","t":60,"y":1.58},
{"m":"q","t":61,"y":1.59},{"m":"q","t":62,"y":1.57},{"m":"q","t":63,"y":1.6},{"m":"q","t":64,"y":1.58},{"m":"q","t":65,"y":1.6},{"m":"q","t":66,"y":1.61},{"m":"q","t":67,"y":1.58},{"m":"q","t":68,"y":1.62},{"m":"q","t":69,"y":1.6},{"m":"q","t":70,"y":1.6},
{"m":"q","t":71,"y":1.61},{"m":"q","t":72,"y":1.58},{"m":"q","t":73,"y":1.61},{"m":"q","t":74,"y":1.58},{"m":"q","t":75,"y":1.6},{"m":"q","t":76,"y":1.61},{"m":"q","t":77,"y":1.58},{"m":"q","t":78,"y":1.62},{"m":"q","t":79,"y":1.6},{"m":"q","t":80,"y":1.6},
{"m":"q","t":81,"y":1.61},{"m":"q","t":82,"y":1.58},{"m":"q","t":83,"y":1.61},{"m":"q","t":84,"y":1.58},{"m":"q","t":85,"y":1.6},{"m":"q","t":86,"y":1.61},{"m":"q","t":87,"y":1.58},{"m":"q","t":88,"y":1.62},{"m":"q","t":89,"y":1.6},{"m":"q","t":90,"y":1.6},
{"m":"q","t":91,"y":1.61},{"m":"q","t":92,"y":1.58},{"m":"q","t":93,"y":1.61},{"m":"q","t":94,"y":1.58},{"m":"q","t":95,"y":1.6},{"m":"q","t":96,"y":1.61},{"m":"q","t":97,"y":1.58},{"m":"q","t":98,"y":1.62},{"m":"q","t":99,"y":1.6},{"m":"q","t":100,"y":1.6},
{"m":"q","t":101,"y":1.59},{"m":"q","t":102,"y":1.56},{"m":"q","t":103,"y":1.59},{"m":"q","t":104,"y":1.56},{"m":"q","t":105,"y":1.58},{"m":"q","t":106,"y":1.58},{"m":"q","t":107,"y":1.55},{"m":"q","t":108,"y":1.59},{"m":"q","t":109,"y":1.57},{"m":"q","t":110,"y":1.57},
{"m":"q","t":111,"y":1.57},{"m":"q","t":112,"y":1.54},{"m":"q","t":113,"y":1.57},{"m":"q","t":114,"y":1.54},{"m":"q","t":115,"y":1.56},{"m":"q","t":116,"y":1.56},{"m":"q","t":117,"y":1.53},{"m":"q","t":118,"y":1.57},{"m":"q","t":119,"y":1.55},{"m":"q","t":120,"y":1.55},
{"m":"q","t":121,"y":1.55},{"m":"q","t":122,"y":1.52},{"m":"q","t":123,"y":1.55},{"m":"q","t":124,"y":1.52},{"m":"q","t":125,"y":1.54},{"m":"q","t":126,"y":1.54},{"m":"q","t":127,"y":1.51},{"m":"q","t":128,"y":1.55},{"m":"q","t":129,"y":1.53},{"m":"q","t":130,"y":1.53},
{"m":"q","t":131,"y":1.53},{"m":"q","t":132,"y":1.5},{"m":"q","t":133,"y":1.53},{"m":"q","t":134,"y":1.5},{"m":"q","t":135,"y":1.52},{"m":"q","t":136,"y":1.52},{"m":"q","t":137,"y":1.49},{"m":"q","t":138,"y":1.53},{"m":"q","t":139,"y":1.51},{"m":"q","t":140,"y":1.51},
{"m":"q","t":141,"y":1.52},{"m":"q","t":142,"y":1.49},{"m":"q","t":143,"y":1.52},{"m":"q","t":144,"y":1.49},{"m":"q","t":145,"y":1.51},{"m":"q","t":146,"y":1.51},{"m":"q","t":147,"y":1.48},{"m":"q","t":148,"y":1.52},{"m":"q","t":149,"y":1.5},{"m":"q","t":150,"y":1.5},
{"m":"r","t":1,"y":0.9},{"m":"r","t":2,"y":-0.42},{"m":"r","t":3,"y":0.5},{"m":"r","t":4,"y":0.3},{"m":"r","t":5,"y":-0.37},{"m":"r","t":6,"y":0.39},{"m":"r","t":7,"y":0.6},{"m":"r","t":8,"y":1.83},{"m":"r","t":9,"y":2.55},{"m":"r","t":10,"y":0.8},
{"m":"r","t":11,"y":0.5},{"m":"r","t":12,"y":0.1},{"m":"r","t":13,"y":-0.05},{"m":"r","t":14,"y":-0.33},{"m":"r","t":15,"y":-0.16},{"m":"r","t":16,"y":-0.12},{"m":"r","t":17,"y":0.1},{"m":"r","t":18,"y":0.2},{"m":"r","t":19,"y":0.33},{"m":"r","t":20,"y":0.36},
{"m":"r","t":21,"y":0.39},{"m":"r","t":22,"y":0.55},{"m":"r","t":23,"y":0.69},{"m":"r","t":24,"y":0.75},{"m":"r","t":25,"y":0.82},{"m":"r","t":26,"y":0.9},{"m":"r","t":27,"y":0.95},{"m":"r","t":28,"y":1.0},{"m":"r","t":29,"y":1.05},{"m":"r","t":30,"y":1.1},
{"m":"r","t":31,"y":1.14},{"m":"r","t":32,"y":1.16},{"m":"r","t":33,"y":1.19},{"m":"r","t":34,"y":1.2},{"m":"r","t":35,"y":1.24},{"m":"r","t":36,"y":1.25},{"m":"r","t":37,"y":1.28},{"m":"r","t":38,"y":1.29},{"m":"r","t":39,"y":1.32},{"m":"r","t":40,"y":1.33},
{"m":"r","t":41,"y":1.35},{"m":"r","t":42,"y":1.36},{"m":"r","t":43,"y":1.38},{"m":"r","t":44,"y":1.38},{"m":"r","t":45,"y":1.4},{"m":"r","t":46,"y":1.41},{"m":"r","t":47,"y":1.42},{"m":"r","t":48,"y":1.43},{"m":"r","t":49,"y":1.44},{"m":"r","t":50,"y":1.45},
{"m":"r","t":51,"y":1.46},{"m":"r","t":52,"y":1.44},{"m":"r","t":53,"y":1.47},{"m":"r","t":54,"y":1.45},{"m":"r","t":55,"y":1.47},{"m":"r","t":56,"y":1.48},{"m":"r","t":57,"y":1.45},{"m":"r","t":58,"y":1.48},{"m":"r","t":59,"y":1.47},{"m":"r","t":60,"y":1.47},
{"m":"r","t":61,"y":1.48},{"m":"r","t":62,"y":1.46},{"m":"r","t":63,"y":1.49},{"m":"r","t":64,"y":1.47},{"m":"r","t":65,"y":1.49},{"m":"r","t":66,"y":1.5},{"m":"r","t":67,"y":1.47},{"m":"r","t":68,"y":1.5},{"m":"r","t":69,"y":1.49},{"m":"r","t":70,"y":1.5},
{"m":"r","t":71,"y":1.51},{"m":"r","t":72,"y":1.48},{"m":"r","t":73,"y":1.51},{"m":"r","t":74,"y":1.48},{"m":"r","t":75,"y":1.5},{"m":"r","t":76,"y":1.51},{"m":"r","t":77,"y":1.48},{"m":"r","t":78,"y":1.52},{"m":"r","t":79,"y":1.5},{"m":"r","t":80,"y":1.49},
{"m":"r","t":81,"y":1.51},{"m":"r","t":82,"y":1.48},{"m":"r","t":83,"y":1.51},{"m":"r","t":84,"y":1.48},{"m":"r","t":85,"y":1.5},{"m":"r","t":86,"y":1.51},{"m":"r","t":87,"y":1.48},{"m":"r","t":88,"y":1.52},{"m":"r","t":89,"y":1.5},{"m":"r","t":90,"y":1.49},
{"m":"r","t":91,"y":1.51},{"m":"r","t":92,"y":1.48},{"m":"r","t":93,"y":1.51},{"m":"r","t":94,"y":1.48},{"m":"r","t":95,"y":1.5},{"m":"r","t":96,"y":1.51},{"m":"r","t":97,"y":1.48},{"m":"r","t":98,"y":1.52},{"m":"r","t":99,"y":1.5},{"m":"r","t":100,"y":1.49},
{"m":"r","t":101,"y":1.51},{"m":"r","t":102,"y":1.48},{"m":"r","t":103,"y":1.51},{"m":"r","t":104,"y":1.48},{"m":"r","t":105,"y":1.5},{"m":"r","t":106,"y":1.51},{"m":"r","t":107,"y":1.48},{"m":"r","t":108,"y":1.52},{"m":"r","t":109,"y":1.5},{"m":"r","t":110,"y":1.49},
{"m":"r","t":111,"y":1.49},{"m":"r","t":112,"y":1.46},{"m":"r","t":113,"y":1.49},{"m":"r","t":114,"y":1.46},{"m":"r","t":115,"y":1.48},{"m":"r","t":116,"y":1.49},{"m":"r","t":117,"y":1.46},{"m":"r","t":118,"y":1.5},{"m":"r","t":119,"y":1.48},{"m":"r","t":120,"y":1.47},
{"m":"r","t":121,"y":1.49},{"m":"r","t":122,"y":1.46},{"m":"r","t":123,"y":1.49},{"m":"r","t":124,"y":1.46},{"m":"r","t":125,"y":1.48},{"m":"r","t":126,"y":1.49},{"m":"r","t":127,"y":1.46},{"m":"r","t":128,"y":1.5},{"m":"r","t":129,"y":1.48},{"m":"r","t":130,"y":1.47},
{"m":"r","t":131,"y":1.49},{"m":"r","t":132,"y":1.46},{"m":"r","t":133,"y":1.49},{"m":"r","t":134,"y":1.46},{"m":"r","t":135,"y":1.48},{"m":"r","t":136,"y":1.49},{"m":"r","t":137,"y":1.46},{"m":"r","t":138,"y":1.5},{"m":"r","t":139,"y":1.48},{"m":"r","t":140,"y":1.47},
{"m":"r","t":141,"y":1.49},{"m":"r","t":142,"y":1.46},{"m":"r","t":143,"y":1.49},{"m":"r","t":144,"y":1.46},{"m":"r","t":145,"y":1.48},{"m":"r","t":146,"y":1.49},{"m":"r","t":147,"y":1.46},{"m":"r","t":148,"y":1.5},{"m":"r","t":149,"y":1.48},{"m":"r","t":150,"y":1.47}
]},
"transform":[{"lookup":"m","from":{"data":{"name":"models"},"key":"m","fields":["model"]}}],
"mark":{"type":"point","filled":true,"size":100,"strokeWidth":1.1,"opacity":1},
"encoding":{
"x":{"field":"t","type":"quantitative","scale":{"domain":[0,150],"nice":false,"zero":false},
 "axis":{"title":"Time (years)","values":[0,25,50,75,100,125,150],"labelExpr":"datum.value % 50 === 0 ? '' + datum.value : ''",
 "gridColor":{"condition":{"test":"datum.value % 50 === 0","value":"#cfcfcf"},"value":"#ededed"},
 "tickOpacity":{"condition":{"test":"datum.value % 50 === 0","value":1},"value":0},
 "labelPadding":7,"titlePadding":8,"titleFontSize":29}},
"y":{"field":"y","type":"quantitative","scale":{"domain":[-1,4],"nice":false,"zero":false},
 "axis":{"title":"RTₜ Ratio","values":[-1,-0.5,0,0.5,1,1.5,2,2.5,3,3.5,4],"labelExpr":"datum.value % 1 === 0 ? '' + datum.value : ''",
 "gridColor":{"condition":{"test":"datum.value % 1 === 0","value":"#cfcfcf"},"value":"#ededed"},
 "tickOpacity":{"condition":{"test":"datum.value % 1 === 0","value":1},"value":0},
 "titlePadding":18,"titleFontSize":28.5}},
"shape":{"field":"model","type":"nominal","scale":{"domain":["bcc-csm1-1","BNU-ESM","CanESM2","CESM1-CAM5","CNRM-CM5-2","FGOALS-g2","GFDL-CM3","GFDL-ESM2G","GFDL-ESM2M","GISS-E2-H","GISS-E2-R","IPSL-CM5A-LR","IPSL-CM5A-MR","IPSL-CM5B-LR","MIROC-ESM","MIROC5","MPI-ESM-MR","MPI-ESM-P"," ","  "],
 "range":["M-0.7,0A0.7,0.7,0,1,1,0.7,0A0.7,0.7,0,1,1,-0.7,0Z","M0,-0.85L0.9,0.7L-0.9,0.7Z","M-1,0L1,0M0,-1L0,1","M-0.75,-0.75L0.75,0.75M-0.75,0.75L0.75,-0.75","M-1,0L0,-1L1,0L0,1Z","M0,0.85L0.9,-0.7L-0.9,-0.7Z","M-0.8,-0.8L0.8,-0.8L0.8,0.8L-0.8,0.8ZM-0.8,-0.8L0.8,0.8M0.8,-0.8L-0.8,0.8","M-1,0L1,0M0,-1L0,1M-0.7,-0.7L0.7,0.7M-0.7,0.7L0.7,-0.7","M-1,0L0,-1L1,0L0,1ZM-1,0L1,0M0,-1L0,1","M-0.8,0A0.8,0.8,0,1,1,0.8,0A0.8,0.8,0,1,1,-0.8,0ZM-0.8,0L0.8,0M0,-0.8L0,0.8","M0,-0.95L0.9,0.6L-0.9,0.6ZM0,0.95L0.9,-0.6L-0.9,-0.6Z","M-0.8,-0.8L0.8,-0.8L0.8,0.8L-0.8,0.8ZM-0.8,0L0.8,0M0,-0.8L0,0.8","M-0.8,-0.8L0.8,-0.8L0.8,0.8L-0.8,0.8ZM-0.8,-0.8L0.8,0.8M0.8,-0.8L-0.8,0.8","M-0.8,-0.8L0.8,-0.8L0.8,0.8L-0.8,0.8ZM-0.8,0.8L0,-0.8L0.8,0.8","M-0.7,-0.7L0.7,-0.7L0.7,0.7L-0.7,0.7Z","M-0.7,0A0.7,0.7,0,1,1,0.7,0A0.7,0.7,0,1,1,-0.7,0Z","M0,-0.85L0.9,0.7L-0.9,0.7Z","M-0.8,0L0,-0.8L0.8,0L0,0.8Z","circle","circle"]},
 "legend":{"title":"Models","orient":"none","legendX":-55,"legendY":467,"columns":5}},
"fill":{"field":"model","type":"nominal","scale":{"domain":["bcc-csm1-1","BNU-ESM","CanESM2","CESM1-CAM5","CNRM-CM5-2","FGOALS-g2","GFDL-CM3","GFDL-ESM2G","GFDL-ESM2M","GISS-E2-H","GISS-E2-R","IPSL-CM5A-LR","IPSL-CM5A-MR","IPSL-CM5B-LR","MIROC-ESM","MIROC5","MPI-ESM-MR","MPI-ESM-P"," ","  "],
 "range":["transparent","transparent","transparent","transparent","transparent","transparent","transparent","transparent","transparent","transparent","transparent","transparent","transparent","transparent","#87cefa","#87cefa","#7b2fc9","#7b2fc9","transparent","transparent"]},
 "legend":{"title":"Models","orient":"none","legendX":-55,"legendY":467,"columns":5}},
"stroke":{"field":"model","type":"nominal","scale":{"domain":["bcc-csm1-1","BNU-ESM","CanESM2","CESM1-CAM5","CNRM-CM5-2","FGOALS-g2","GFDL-CM3","GFDL-ESM2G","GFDL-ESM2M","GISS-E2-H","GISS-E2-R","IPSL-CM5A-LR","IPSL-CM5A-MR","IPSL-CM5B-LR","MIROC-ESM","MIROC5","MPI-ESM-MR","MPI-ESM-P"," ","  "],
 "range":["#8c8c8c","#000000","#a0522d","#daa520","#ff8c00","#a0309a","#d00000","#e00000","#dc1414","#1e8c1e","#1e8c1e","#3a4e9e","#3a4e9e","#3a4e9e","#87cefa","#87cefa","#7b2fc9","#7b2fc9","transparent","transparent"]},
 "legend":{"title":"Models","orient":"none","legendX":-55,"legendY":467,"columns":5}}
},
"config":{
 "font":"Liberation Sans",
 "view":{"stroke":"black","strokeWidth":1.2},
 "axis":{"labelFont":"Liberation Sans","labelFontSize":17,"labelFontStyle":"italic","labelColor":"black","labelPadding":4,"tickColor":"black","tickSize":5,"tickWidth":1.5,"domainColor":"black","domainWidth":2,"gridWidth":1.1,"titleFont":"Liberation Sans","titleFontSize":27,"titleFontWeight":"normal","titleColor":"black","labelFlush":false,"labelOverlap":false},
 "legend":{"labelFont":"Liberation Sans","labelFontSize":17,"labelColor":"black","labelOffset":15,"titleFont":"Liberation Sans","titleFontSize":22,"titleFontWeight":"bold","titleColor":"black","titleOrient":"left","titleAnchor":"middle","titleBaseline":"middle","titlePadding":24,"symbolSize":64,"symbolStrokeWidth":1.2,"padding":11,"strokeColor":"#333333","strokeWidth":1.5,"fillColor":"white","rowPadding":2,"columnPadding":12,"gridAlign":"all","clipHeight":40,"labelLimit":200}
}
}
